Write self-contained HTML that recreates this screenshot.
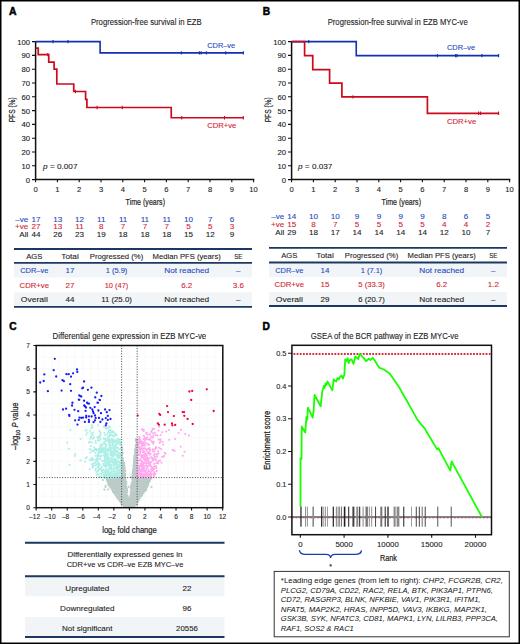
<!DOCTYPE html>
<html><head><meta charset="utf-8"><style>
html,body{margin:0;padding:0;background:#fff;overflow:hidden;width:520px;height:644px;}
svg{display:block;font-family:"Liberation Sans", sans-serif;}
</style></head><body>
<svg width="520" height="644" viewBox="0 0 520 644">
<rect x="0" y="0" width="520" height="644" fill="#fff"/>
<text x="9.00" y="15.30" font-size="10.4" fill="#000" stroke="#000" stroke-width="0.5" font-weight="bold">A</text>
<text x="262.80" y="15.30" font-size="10.2" fill="#000" stroke="#000" stroke-width="0.5" font-weight="bold">B</text>
<path d="M35.60,41.00V179.60H254.30" fill="none" stroke="#111" stroke-width="1.5"/>
<path d="M32.00,179.60H35.6M35.60,179.6V182.20M32.00,165.80H35.6M57.40,179.6V182.20M32.00,152.00H35.6M79.20,179.6V182.20M32.00,138.20H35.6M101.00,179.6V182.20M32.00,124.40H35.6M122.80,179.6V182.20M32.00,110.60H35.6M144.60,179.6V182.20M32.00,96.80H35.6M166.40,179.6V182.20M32.00,83.00H35.6M188.20,179.6V182.20M32.00,69.20H35.6M210.00,179.6V182.20M32.00,55.40H35.6M231.80,179.6V182.20M32.00,41.60H35.6M253.60,179.6V182.20" stroke="#111" stroke-width="1.1" fill="none"/>
<text x="30.00" y="182.50" font-size="7.7" fill="#222" stroke="#222" stroke-width="0.1" text-anchor="end">0</text>
<text x="35.60" y="191.90" font-size="7.6" fill="#222" stroke="#222" stroke-width="0.1" text-anchor="middle">0</text>
<text x="30.00" y="168.70" font-size="7.7" fill="#222" stroke="#222" stroke-width="0.1" text-anchor="end">10</text>
<text x="57.40" y="191.90" font-size="7.6" fill="#222" stroke="#222" stroke-width="0.1" text-anchor="middle">1</text>
<text x="30.00" y="154.90" font-size="7.7" fill="#222" stroke="#222" stroke-width="0.1" text-anchor="end">20</text>
<text x="79.20" y="191.90" font-size="7.6" fill="#222" stroke="#222" stroke-width="0.1" text-anchor="middle">2</text>
<text x="30.00" y="141.10" font-size="7.7" fill="#222" stroke="#222" stroke-width="0.1" text-anchor="end">30</text>
<text x="101.00" y="191.90" font-size="7.6" fill="#222" stroke="#222" stroke-width="0.1" text-anchor="middle">3</text>
<text x="30.00" y="127.30" font-size="7.7" fill="#222" stroke="#222" stroke-width="0.1" text-anchor="end">40</text>
<text x="122.80" y="191.90" font-size="7.6" fill="#222" stroke="#222" stroke-width="0.1" text-anchor="middle">4</text>
<text x="30.00" y="113.50" font-size="7.7" fill="#222" stroke="#222" stroke-width="0.1" text-anchor="end">50</text>
<text x="144.60" y="191.90" font-size="7.6" fill="#222" stroke="#222" stroke-width="0.1" text-anchor="middle">5</text>
<text x="30.00" y="99.70" font-size="7.7" fill="#222" stroke="#222" stroke-width="0.1" text-anchor="end">60</text>
<text x="166.40" y="191.90" font-size="7.6" fill="#222" stroke="#222" stroke-width="0.1" text-anchor="middle">6</text>
<text x="30.00" y="85.90" font-size="7.7" fill="#222" stroke="#222" stroke-width="0.1" text-anchor="end">70</text>
<text x="188.20" y="191.90" font-size="7.6" fill="#222" stroke="#222" stroke-width="0.1" text-anchor="middle">7</text>
<text x="30.00" y="72.10" font-size="7.7" fill="#222" stroke="#222" stroke-width="0.1" text-anchor="end">80</text>
<text x="210.00" y="191.90" font-size="7.6" fill="#222" stroke="#222" stroke-width="0.1" text-anchor="middle">8</text>
<text x="30.00" y="58.30" font-size="7.7" fill="#222" stroke="#222" stroke-width="0.1" text-anchor="end">90</text>
<text x="231.80" y="191.90" font-size="7.6" fill="#222" stroke="#222" stroke-width="0.1" text-anchor="middle">9</text>
<text x="30.00" y="44.50" font-size="7.7" fill="#222" stroke="#222" stroke-width="0.1" text-anchor="end">100</text>
<text x="253.60" y="191.90" font-size="7.6" fill="#222" stroke="#222" stroke-width="0.1" text-anchor="middle">10</text>
<text x="90.90" y="24.80" font-size="8.5" fill="#222" stroke="#222" stroke-width="0.1" textLength="110.8" lengthAdjust="spacingAndGlyphs">Progression-free survival in EZB</text>
<text transform="translate(14.90,109.80) rotate(-90)" x="0" y="0" font-size="9.3" fill="#222" stroke="#222" stroke-width="0.2" text-anchor="middle" textLength="25" lengthAdjust="spacingAndGlyphs">PFS (%)</text>
<text x="125.60" y="204.70" font-size="9.4" fill="#222" stroke="#222" stroke-width="0.2" textLength="39.4" lengthAdjust="spacingAndGlyphs">Time (years)</text>
<path d="M35.6,41.6H100.1V52.9H243.6" fill="none" stroke="#1330b0" stroke-width="1.6"/>
<path d="M35.6,48.1H38.25V54.6H48.75V62.1H54.1V69.2H56.8V84H73.75V91.5H85.6V99.4H86.9V107.5H171.25V117.75H243.6" fill="none" stroke="#cc0a1e" stroke-width="1.7"/>
<path d="M53.00,39.90V43.30M68.00,39.90V43.30M181.25,51.20V54.60M199.40,51.20V54.60M201.10,51.20V54.60M206.30,51.20V54.60M225.70,51.20V54.60M243.30,51.20V54.60" stroke="#1330b0" stroke-width="1.1" fill="none"/>
<path d="M47.75,52.90V56.30M75.40,89.80V93.20M97.10,105.80V109.20M122.25,105.80V109.20M181.75,116.05V119.45M224.50,116.05V119.45M243.30,116.05V119.45" stroke="#cc0a1e" stroke-width="1.1" fill="none"/>
<text x="207.20" y="47.60" font-size="7.5" fill="#2548be" stroke="#2548be" stroke-width="0.1" textLength="28" lengthAdjust="spacingAndGlyphs">CDR–ve</text>
<text x="207.20" y="128.20" font-size="7.5" fill="#d21e32" stroke="#d21e32" stroke-width="0.1" textLength="29.2" lengthAdjust="spacingAndGlyphs">CDR+ve</text>
<text x="43.10" y="168.8" font-size="7.6" fill="#222" stroke="#222" stroke-width="0.1" textLength="34.4" lengthAdjust="spacingAndGlyphs"><tspan font-style="italic">p</tspan> = 0.007</text>
<text x="28.30" y="221.50" font-size="8.1" fill="#2548be" stroke="#2548be" stroke-width="0.1" text-anchor="end">–ve</text>
<text x="35.90" y="221.50" font-size="8.1" fill="#2548be" stroke="#2548be" stroke-width="0.1" text-anchor="middle">17</text>
<text x="57.70" y="221.50" font-size="8.1" fill="#2548be" stroke="#2548be" stroke-width="0.1" text-anchor="middle">13</text>
<text x="79.50" y="221.50" font-size="8.1" fill="#2548be" stroke="#2548be" stroke-width="0.1" text-anchor="middle">12</text>
<text x="101.30" y="221.50" font-size="8.1" fill="#2548be" stroke="#2548be" stroke-width="0.1" text-anchor="middle">11</text>
<text x="123.10" y="221.50" font-size="8.1" fill="#2548be" stroke="#2548be" stroke-width="0.1" text-anchor="middle">11</text>
<text x="144.90" y="221.50" font-size="8.1" fill="#2548be" stroke="#2548be" stroke-width="0.1" text-anchor="middle">11</text>
<text x="166.70" y="221.50" font-size="8.1" fill="#2548be" stroke="#2548be" stroke-width="0.1" text-anchor="middle">11</text>
<text x="188.50" y="221.50" font-size="8.1" fill="#2548be" stroke="#2548be" stroke-width="0.1" text-anchor="middle">10</text>
<text x="210.30" y="221.50" font-size="8.1" fill="#2548be" stroke="#2548be" stroke-width="0.1" text-anchor="middle">7</text>
<text x="232.10" y="221.50" font-size="8.1" fill="#2548be" stroke="#2548be" stroke-width="0.1" text-anchor="middle">6</text>
<text x="28.30" y="228.90" font-size="8.1" fill="#d21e32" stroke="#d21e32" stroke-width="0.1" text-anchor="end">+ve</text>
<text x="35.90" y="228.90" font-size="8.1" fill="#d21e32" stroke="#d21e32" stroke-width="0.1" text-anchor="middle">27</text>
<text x="57.70" y="228.90" font-size="8.1" fill="#d21e32" stroke="#d21e32" stroke-width="0.1" text-anchor="middle">13</text>
<text x="79.50" y="228.90" font-size="8.1" fill="#d21e32" stroke="#d21e32" stroke-width="0.1" text-anchor="middle">11</text>
<text x="101.30" y="228.90" font-size="8.1" fill="#d21e32" stroke="#d21e32" stroke-width="0.1" text-anchor="middle">8</text>
<text x="123.10" y="228.90" font-size="8.1" fill="#d21e32" stroke="#d21e32" stroke-width="0.1" text-anchor="middle">7</text>
<text x="144.90" y="228.90" font-size="8.1" fill="#d21e32" stroke="#d21e32" stroke-width="0.1" text-anchor="middle">7</text>
<text x="166.70" y="228.90" font-size="8.1" fill="#d21e32" stroke="#d21e32" stroke-width="0.1" text-anchor="middle">7</text>
<text x="188.50" y="228.90" font-size="8.1" fill="#d21e32" stroke="#d21e32" stroke-width="0.1" text-anchor="middle">5</text>
<text x="210.30" y="228.90" font-size="8.1" fill="#d21e32" stroke="#d21e32" stroke-width="0.1" text-anchor="middle">5</text>
<text x="232.10" y="228.90" font-size="8.1" fill="#d21e32" stroke="#d21e32" stroke-width="0.1" text-anchor="middle">3</text>
<text x="28.30" y="236.50" font-size="8.1" fill="#222" stroke="#222" stroke-width="0.1" text-anchor="end">All</text>
<text x="35.90" y="236.50" font-size="8.1" fill="#222" stroke="#222" stroke-width="0.1" text-anchor="middle">44</text>
<text x="57.70" y="236.50" font-size="8.1" fill="#222" stroke="#222" stroke-width="0.1" text-anchor="middle">26</text>
<text x="79.50" y="236.50" font-size="8.1" fill="#222" stroke="#222" stroke-width="0.1" text-anchor="middle">23</text>
<text x="101.30" y="236.50" font-size="8.1" fill="#222" stroke="#222" stroke-width="0.1" text-anchor="middle">19</text>
<text x="123.10" y="236.50" font-size="8.1" fill="#222" stroke="#222" stroke-width="0.1" text-anchor="middle">18</text>
<text x="144.90" y="236.50" font-size="8.1" fill="#222" stroke="#222" stroke-width="0.1" text-anchor="middle">18</text>
<text x="166.70" y="236.50" font-size="8.1" fill="#222" stroke="#222" stroke-width="0.1" text-anchor="middle">18</text>
<text x="188.50" y="236.50" font-size="8.1" fill="#222" stroke="#222" stroke-width="0.1" text-anchor="middle">15</text>
<text x="210.30" y="236.50" font-size="8.1" fill="#222" stroke="#222" stroke-width="0.1" text-anchor="middle">12</text>
<text x="232.10" y="236.50" font-size="8.1" fill="#222" stroke="#222" stroke-width="0.1" text-anchor="middle">9</text>
<path d="M291.60,41.00V179.60H510.30" fill="none" stroke="#111" stroke-width="1.5"/>
<path d="M288.00,179.60H291.6M291.60,179.6V182.20M288.00,165.80H291.6M313.40,179.6V182.20M288.00,152.00H291.6M335.20,179.6V182.20M288.00,138.20H291.6M357.00,179.6V182.20M288.00,124.40H291.6M378.80,179.6V182.20M288.00,110.60H291.6M400.60,179.6V182.20M288.00,96.80H291.6M422.40,179.6V182.20M288.00,83.00H291.6M444.20,179.6V182.20M288.00,69.20H291.6M466.00,179.6V182.20M288.00,55.40H291.6M487.80,179.6V182.20M288.00,41.60H291.6M509.60,179.6V182.20" stroke="#111" stroke-width="1.1" fill="none"/>
<text x="286.00" y="182.50" font-size="7.7" fill="#222" stroke="#222" stroke-width="0.1" text-anchor="end">0</text>
<text x="291.60" y="191.90" font-size="7.6" fill="#222" stroke="#222" stroke-width="0.1" text-anchor="middle">0</text>
<text x="286.00" y="168.70" font-size="7.7" fill="#222" stroke="#222" stroke-width="0.1" text-anchor="end">10</text>
<text x="313.40" y="191.90" font-size="7.6" fill="#222" stroke="#222" stroke-width="0.1" text-anchor="middle">1</text>
<text x="286.00" y="154.90" font-size="7.7" fill="#222" stroke="#222" stroke-width="0.1" text-anchor="end">20</text>
<text x="335.20" y="191.90" font-size="7.6" fill="#222" stroke="#222" stroke-width="0.1" text-anchor="middle">2</text>
<text x="286.00" y="141.10" font-size="7.7" fill="#222" stroke="#222" stroke-width="0.1" text-anchor="end">30</text>
<text x="357.00" y="191.90" font-size="7.6" fill="#222" stroke="#222" stroke-width="0.1" text-anchor="middle">3</text>
<text x="286.00" y="127.30" font-size="7.7" fill="#222" stroke="#222" stroke-width="0.1" text-anchor="end">40</text>
<text x="378.80" y="191.90" font-size="7.6" fill="#222" stroke="#222" stroke-width="0.1" text-anchor="middle">4</text>
<text x="286.00" y="113.50" font-size="7.7" fill="#222" stroke="#222" stroke-width="0.1" text-anchor="end">50</text>
<text x="400.60" y="191.90" font-size="7.6" fill="#222" stroke="#222" stroke-width="0.1" text-anchor="middle">5</text>
<text x="286.00" y="99.70" font-size="7.7" fill="#222" stroke="#222" stroke-width="0.1" text-anchor="end">60</text>
<text x="422.40" y="191.90" font-size="7.6" fill="#222" stroke="#222" stroke-width="0.1" text-anchor="middle">6</text>
<text x="286.00" y="85.90" font-size="7.7" fill="#222" stroke="#222" stroke-width="0.1" text-anchor="end">70</text>
<text x="444.20" y="191.90" font-size="7.6" fill="#222" stroke="#222" stroke-width="0.1" text-anchor="middle">7</text>
<text x="286.00" y="72.10" font-size="7.7" fill="#222" stroke="#222" stroke-width="0.1" text-anchor="end">80</text>
<text x="466.00" y="191.90" font-size="7.6" fill="#222" stroke="#222" stroke-width="0.1" text-anchor="middle">8</text>
<text x="286.00" y="58.30" font-size="7.7" fill="#222" stroke="#222" stroke-width="0.1" text-anchor="end">90</text>
<text x="487.80" y="191.90" font-size="7.6" fill="#222" stroke="#222" stroke-width="0.1" text-anchor="middle">9</text>
<text x="286.00" y="44.50" font-size="7.7" fill="#222" stroke="#222" stroke-width="0.1" text-anchor="end">100</text>
<text x="509.60" y="191.90" font-size="7.6" fill="#222" stroke="#222" stroke-width="0.1" text-anchor="middle">10</text>
<text x="327.70" y="24.80" font-size="8.5" fill="#222" stroke="#222" stroke-width="0.1" textLength="140" lengthAdjust="spacingAndGlyphs">Progression-free survival in EZB MYC-ve</text>
<text transform="translate(270.90,109.80) rotate(-90)" x="0" y="0" font-size="9.3" fill="#222" stroke="#222" stroke-width="0.2" text-anchor="middle" textLength="25" lengthAdjust="spacingAndGlyphs">PFS (%)</text>
<text x="381.60" y="204.70" font-size="9.4" fill="#222" stroke="#222" stroke-width="0.2" textLength="39.4" lengthAdjust="spacingAndGlyphs">Time (years)</text>
<path d="M291.6,41.6H356.25V55.6H498.8" fill="none" stroke="#1330b0" stroke-width="1.6"/>
<path d="M291.6,41.6H304.6V55.6H312.75V69.6H329.6V83.1H341.9V96.9H427.4V113.3H498.8" fill="none" stroke="#cc0a1e" stroke-width="1.7"/>
<path d="M308.75,39.90V43.30M437.40,53.90V57.30M455.60,53.90V57.30M457.00,53.90V57.30M481.90,53.90V57.30M498.60,53.90V57.30" stroke="#1330b0" stroke-width="1.1" fill="none"/>
<path d="M353.00,95.20V98.60M478.60,111.60V115.00M480.60,111.60V115.00M498.60,111.60V115.00" stroke="#cc0a1e" stroke-width="1.1" fill="none"/>
<text x="447.00" y="50.20" font-size="7.5" fill="#2548be" stroke="#2548be" stroke-width="0.1" textLength="28" lengthAdjust="spacingAndGlyphs">CDR–ve</text>
<text x="447.00" y="123.50" font-size="7.5" fill="#d21e32" stroke="#d21e32" stroke-width="0.1" textLength="29.2" lengthAdjust="spacingAndGlyphs">CDR+ve</text>
<text x="298.00" y="168.8" font-size="7.6" fill="#222" stroke="#222" stroke-width="0.1" textLength="34.4" lengthAdjust="spacingAndGlyphs"><tspan font-style="italic">p</tspan> = 0.037</text>
<text x="284.30" y="218.80" font-size="8.1" fill="#2548be" stroke="#2548be" stroke-width="0.1" text-anchor="end">–ve</text>
<text x="291.70" y="218.80" font-size="8.1" fill="#2548be" stroke="#2548be" stroke-width="0.1" text-anchor="middle">14</text>
<text x="313.50" y="218.80" font-size="8.1" fill="#2548be" stroke="#2548be" stroke-width="0.1" text-anchor="middle">10</text>
<text x="335.30" y="218.80" font-size="8.1" fill="#2548be" stroke="#2548be" stroke-width="0.1" text-anchor="middle">10</text>
<text x="357.10" y="218.80" font-size="8.1" fill="#2548be" stroke="#2548be" stroke-width="0.1" text-anchor="middle">9</text>
<text x="378.90" y="218.80" font-size="8.1" fill="#2548be" stroke="#2548be" stroke-width="0.1" text-anchor="middle">9</text>
<text x="400.70" y="218.80" font-size="8.1" fill="#2548be" stroke="#2548be" stroke-width="0.1" text-anchor="middle">9</text>
<text x="422.50" y="218.80" font-size="8.1" fill="#2548be" stroke="#2548be" stroke-width="0.1" text-anchor="middle">9</text>
<text x="444.30" y="218.80" font-size="8.1" fill="#2548be" stroke="#2548be" stroke-width="0.1" text-anchor="middle">8</text>
<text x="466.10" y="218.80" font-size="8.1" fill="#2548be" stroke="#2548be" stroke-width="0.1" text-anchor="middle">6</text>
<text x="487.90" y="218.80" font-size="8.1" fill="#2548be" stroke="#2548be" stroke-width="0.1" text-anchor="middle">5</text>
<text x="284.30" y="226.50" font-size="8.1" fill="#d21e32" stroke="#d21e32" stroke-width="0.1" text-anchor="end">+ve</text>
<text x="291.70" y="226.50" font-size="8.1" fill="#d21e32" stroke="#d21e32" stroke-width="0.1" text-anchor="middle">15</text>
<text x="313.50" y="226.50" font-size="8.1" fill="#d21e32" stroke="#d21e32" stroke-width="0.1" text-anchor="middle">8</text>
<text x="335.30" y="226.50" font-size="8.1" fill="#d21e32" stroke="#d21e32" stroke-width="0.1" text-anchor="middle">7</text>
<text x="357.10" y="226.50" font-size="8.1" fill="#d21e32" stroke="#d21e32" stroke-width="0.1" text-anchor="middle">5</text>
<text x="378.90" y="226.50" font-size="8.1" fill="#d21e32" stroke="#d21e32" stroke-width="0.1" text-anchor="middle">5</text>
<text x="400.70" y="226.50" font-size="8.1" fill="#d21e32" stroke="#d21e32" stroke-width="0.1" text-anchor="middle">5</text>
<text x="422.50" y="226.50" font-size="8.1" fill="#d21e32" stroke="#d21e32" stroke-width="0.1" text-anchor="middle">5</text>
<text x="444.30" y="226.50" font-size="8.1" fill="#d21e32" stroke="#d21e32" stroke-width="0.1" text-anchor="middle">4</text>
<text x="466.10" y="226.50" font-size="8.1" fill="#d21e32" stroke="#d21e32" stroke-width="0.1" text-anchor="middle">4</text>
<text x="487.90" y="226.50" font-size="8.1" fill="#d21e32" stroke="#d21e32" stroke-width="0.1" text-anchor="middle">2</text>
<text x="284.30" y="234.50" font-size="8.1" fill="#222" stroke="#222" stroke-width="0.1" text-anchor="end">All</text>
<text x="291.70" y="234.50" font-size="8.1" fill="#222" stroke="#222" stroke-width="0.1" text-anchor="middle">29</text>
<text x="313.50" y="234.50" font-size="8.1" fill="#222" stroke="#222" stroke-width="0.1" text-anchor="middle">18</text>
<text x="335.30" y="234.50" font-size="8.1" fill="#222" stroke="#222" stroke-width="0.1" text-anchor="middle">17</text>
<text x="357.10" y="234.50" font-size="8.1" fill="#222" stroke="#222" stroke-width="0.1" text-anchor="middle">14</text>
<text x="378.90" y="234.50" font-size="8.1" fill="#222" stroke="#222" stroke-width="0.1" text-anchor="middle">14</text>
<text x="400.70" y="234.50" font-size="8.1" fill="#222" stroke="#222" stroke-width="0.1" text-anchor="middle">14</text>
<text x="422.50" y="234.50" font-size="8.1" fill="#222" stroke="#222" stroke-width="0.1" text-anchor="middle">14</text>
<text x="444.30" y="234.50" font-size="8.1" fill="#222" stroke="#222" stroke-width="0.1" text-anchor="middle">12</text>
<text x="466.10" y="234.50" font-size="8.1" fill="#222" stroke="#222" stroke-width="0.1" text-anchor="middle">10</text>
<text x="487.90" y="234.50" font-size="8.1" fill="#222" stroke="#222" stroke-width="0.1" text-anchor="middle">7</text>
<rect x="14" y="263.9" width="238" height="13.6" fill="#f1f5f7"/>
<rect x="14" y="292.29999999999995" width="238" height="13.60" fill="#f1f5f7"/>
<path d="M14,249H252M14,262.9H252M14,306.9H252" stroke="#1a3860" stroke-width="1.9"/>
<text x="34.30" y="258.70" font-size="8" fill="#222" stroke="#222" stroke-width="0.1" text-anchor="middle" textLength="16.2" lengthAdjust="spacingAndGlyphs">AGS</text>
<text x="70.00" y="258.70" font-size="8" fill="#222" stroke="#222" stroke-width="0.1" text-anchor="middle" textLength="17.5" lengthAdjust="spacingAndGlyphs">Total</text>
<text x="116.50" y="258.70" font-size="8" fill="#222" stroke="#222" stroke-width="0.1" text-anchor="middle" textLength="53.5" lengthAdjust="spacingAndGlyphs">Progressed (%)</text>
<text x="186.70" y="258.70" font-size="8" fill="#222" stroke="#222" stroke-width="0.1" text-anchor="middle" textLength="68.2" lengthAdjust="spacingAndGlyphs">Median PFS (years)</text>
<text x="238.30" y="258.70" font-size="8" fill="#222" stroke="#222" stroke-width="0.1" text-anchor="middle" textLength="8.3" lengthAdjust="spacingAndGlyphs">SE</text>
<text x="34.30" y="273.20" font-size="8" fill="#2548be" stroke="#2548be" stroke-width="0.1" text-anchor="middle" textLength="28.2" lengthAdjust="spacingAndGlyphs">CDR–ve</text>
<text x="70.00" y="273.20" font-size="8" fill="#2548be" stroke="#2548be" stroke-width="0.1" text-anchor="middle">17</text>
<text x="116.50" y="273.20" font-size="8" fill="#2548be" stroke="#2548be" stroke-width="0.1" text-anchor="middle" textLength="21.7" lengthAdjust="spacingAndGlyphs">1 (5.9)</text>
<text x="186.70" y="273.20" font-size="8" fill="#2548be" stroke="#2548be" stroke-width="0.1" text-anchor="middle" textLength="45" lengthAdjust="spacingAndGlyphs">Not reached</text>
<text x="238.30" y="273.20" font-size="8" fill="#2548be" stroke="#2548be" stroke-width="0.1" text-anchor="middle">–</text>
<text x="34.30" y="287.80" font-size="8" fill="#d21e32" stroke="#d21e32" stroke-width="0.1" text-anchor="middle" textLength="29.5" lengthAdjust="spacingAndGlyphs">CDR+ve</text>
<text x="70.00" y="287.80" font-size="8" fill="#d21e32" stroke="#d21e32" stroke-width="0.1" text-anchor="middle">27</text>
<text x="116.50" y="287.80" font-size="8" fill="#d21e32" stroke="#d21e32" stroke-width="0.1" text-anchor="middle" textLength="23.7" lengthAdjust="spacingAndGlyphs">10 (47)</text>
<text x="186.70" y="287.80" font-size="8" fill="#d21e32" stroke="#d21e32" stroke-width="0.1" text-anchor="middle">6.2</text>
<text x="238.30" y="287.80" font-size="8" fill="#d21e32" stroke="#d21e32" stroke-width="0.1" text-anchor="middle">3.6</text>
<text x="34.30" y="302.40" font-size="8" fill="#222" stroke="#222" stroke-width="0.1" text-anchor="middle" textLength="27" lengthAdjust="spacingAndGlyphs">Overall</text>
<text x="70.00" y="302.40" font-size="8" fill="#222" stroke="#222" stroke-width="0.1" text-anchor="middle">44</text>
<text x="116.50" y="302.40" font-size="8" fill="#222" stroke="#222" stroke-width="0.1" text-anchor="middle" textLength="30.7" lengthAdjust="spacingAndGlyphs">11 (25.0)</text>
<text x="186.70" y="302.40" font-size="8" fill="#222" stroke="#222" stroke-width="0.1" text-anchor="middle" textLength="45" lengthAdjust="spacingAndGlyphs">Not reached</text>
<text x="238.30" y="302.40" font-size="8" fill="#222" stroke="#222" stroke-width="0.1" text-anchor="middle">–</text>
<rect x="269" y="263.5" width="238" height="13.6" fill="#f1f5f7"/>
<rect x="269" y="291.9" width="238" height="13.10" fill="#f1f5f7"/>
<path d="M269,247.9H507M269,262.5H507M269,306H507" stroke="#1a3860" stroke-width="1.9"/>
<text x="289.30" y="257.60" font-size="8" fill="#222" stroke="#222" stroke-width="0.1" text-anchor="middle" textLength="16.2" lengthAdjust="spacingAndGlyphs">AGS</text>
<text x="325.00" y="257.60" font-size="8" fill="#222" stroke="#222" stroke-width="0.1" text-anchor="middle" textLength="17.5" lengthAdjust="spacingAndGlyphs">Total</text>
<text x="371.50" y="257.60" font-size="8" fill="#222" stroke="#222" stroke-width="0.1" text-anchor="middle" textLength="53.5" lengthAdjust="spacingAndGlyphs">Progressed (%)</text>
<text x="441.70" y="257.60" font-size="8" fill="#222" stroke="#222" stroke-width="0.1" text-anchor="middle" textLength="68.2" lengthAdjust="spacingAndGlyphs">Median PFS (years)</text>
<text x="493.30" y="257.60" font-size="8" fill="#222" stroke="#222" stroke-width="0.1" text-anchor="middle" textLength="8.3" lengthAdjust="spacingAndGlyphs">SE</text>
<text x="289.30" y="272.80" font-size="8" fill="#2548be" stroke="#2548be" stroke-width="0.1" text-anchor="middle" textLength="28.2" lengthAdjust="spacingAndGlyphs">CDR–ve</text>
<text x="325.00" y="272.80" font-size="8" fill="#2548be" stroke="#2548be" stroke-width="0.1" text-anchor="middle">14</text>
<text x="371.50" y="272.80" font-size="8" fill="#2548be" stroke="#2548be" stroke-width="0.1" text-anchor="middle" textLength="21.7" lengthAdjust="spacingAndGlyphs">1 (7.1)</text>
<text x="441.70" y="272.80" font-size="8" fill="#2548be" stroke="#2548be" stroke-width="0.1" text-anchor="middle" textLength="45" lengthAdjust="spacingAndGlyphs">Not reached</text>
<text x="493.30" y="272.80" font-size="8" fill="#2548be" stroke="#2548be" stroke-width="0.1" text-anchor="middle">–</text>
<text x="289.30" y="287.40" font-size="8" fill="#d21e32" stroke="#d21e32" stroke-width="0.1" text-anchor="middle" textLength="29.5" lengthAdjust="spacingAndGlyphs">CDR+ve</text>
<text x="325.00" y="287.40" font-size="8" fill="#d21e32" stroke="#d21e32" stroke-width="0.1" text-anchor="middle">15</text>
<text x="371.50" y="287.40" font-size="8" fill="#d21e32" stroke="#d21e32" stroke-width="0.1" text-anchor="middle" textLength="26.5" lengthAdjust="spacingAndGlyphs">5 (33.3)</text>
<text x="441.70" y="287.40" font-size="8" fill="#d21e32" stroke="#d21e32" stroke-width="0.1" text-anchor="middle">6.2</text>
<text x="493.30" y="287.40" font-size="8" fill="#d21e32" stroke="#d21e32" stroke-width="0.1" text-anchor="middle">1.2</text>
<text x="289.30" y="302.00" font-size="8" fill="#222" stroke="#222" stroke-width="0.1" text-anchor="middle" textLength="27" lengthAdjust="spacingAndGlyphs">Overall</text>
<text x="325.00" y="302.00" font-size="8" fill="#222" stroke="#222" stroke-width="0.1" text-anchor="middle">29</text>
<text x="371.50" y="302.00" font-size="8" fill="#222" stroke="#222" stroke-width="0.1" text-anchor="middle" textLength="26.5" lengthAdjust="spacingAndGlyphs">6 (20.7)</text>
<text x="441.70" y="302.00" font-size="8" fill="#222" stroke="#222" stroke-width="0.1" text-anchor="middle" textLength="45" lengthAdjust="spacingAndGlyphs">Not reached</text>
<text x="493.30" y="302.00" font-size="8" fill="#222" stroke="#222" stroke-width="0.1" text-anchor="middle">–</text>
<text x="9.30" y="330.00" font-size="10.2" fill="#000" stroke="#000" stroke-width="0.5" font-weight="bold">C</text>
<text x="52.50" y="338.60" font-size="8.5" fill="#222" stroke="#222" stroke-width="0.1" textLength="153.7" lengthAdjust="spacingAndGlyphs">Differential gene expression in EZB MYC-ve</text>
<path d="M43.93,345.5V507.7M51.70,345.5V507.7M59.47,345.5V507.7M67.24,345.5V507.7M75.01,345.5V507.7M82.78,345.5V507.7M90.55,345.5V507.7M98.32,345.5V507.7M106.09,345.5V507.7M113.86,345.5V507.7M121.63,345.5V507.7M129.40,345.5V507.7M137.17,345.5V507.7M144.94,345.5V507.7M152.71,345.5V507.7M160.48,345.5V507.7M168.25,345.5V507.7M176.02,345.5V507.7M183.79,345.5V507.7M191.56,345.5V507.7M199.33,345.5V507.7M207.10,345.5V507.7M214.87,345.5V507.7M36.2,496.12H222.8M36.2,484.53H222.8M36.2,472.94H222.8M36.2,461.36H222.8M36.2,449.77H222.8M36.2,438.19H222.8M36.2,426.61H222.8M36.2,415.02H222.8M36.2,403.43H222.8M36.2,391.85H222.8M36.2,380.26H222.8M36.2,368.68H222.8M36.2,357.09H222.8" stroke="#f3f7f7" stroke-width="0.6" fill="none"/>
<path d="M120.0 482.4h0M121.9 479.7h0M108.2 480.6h0M143.2 481.6h0M134.0 505.5h0M118.4 482.2h0M134.5 488.8h0M107.9 479.7h0M136.5 490.4h0M132.1 491.1h0M116.3 494.7h0M140.0 482.4h0M140.4 494.6h0M119.5 498.2h0M131.8 491.2h0M135.7 479.8h0M143.0 486.3h0M135.9 478.7h0M112.8 481.4h0M140.5 481.8h0M123.1 503.3h0M125.8 493.9h0M117.9 490.0h0M112.0 483.1h0M115.8 492.1h0M117.2 478.1h0M122.1 494.4h0M136.9 492.9h0M136.3 479.6h0M141.9 489.4h0M107.9 480.0h0M112.5 487.9h0M133.4 482.3h0M121.1 488.6h0M126.6 492.0h0M129.4 506.4h0M137.2 485.6h0M129.6 500.6h0M139.2 484.6h0M121.4 478.8h0M117.9 485.5h0M115.2 484.6h0M127.2 496.9h0M139.7 491.9h0M141.5 487.6h0M123.6 505.5h0M112.9 481.7h0M121.2 493.9h0M135.0 493.3h0M125.1 503.3h0M114.8 485.3h0M116.1 495.0h0M124.4 481.8h0M121.4 491.3h0M113.0 491.7h0M141.3 481.1h0M116.5 486.0h0M125.5 495.8h0M128.7 498.1h0M117.0 494.2h0M143.8 482.0h0M125.4 480.1h0M135.5 482.1h0M127.5 506.7h0M112.5 490.5h0M120.7 483.7h0M138.4 478.6h0M125.4 478.5h0M133.9 492.9h0M149.9 481.0h0M117.5 481.8h0M117.0 482.3h0M131.4 498.3h0M124.7 480.1h0M134.3 501.2h0M126.0 487.8h0M147.9 485.8h0M110.1 482.7h0M114.3 487.0h0M140.1 486.4h0M113.2 488.1h0M116.6 478.4h0M127.0 505.1h0M142.9 490.5h0M143.6 489.4h0M120.9 502.1h0M134.4 489.7h0M107.5 481.8h0M139.3 485.4h0M118.0 485.0h0M126.2 482.6h0M119.3 488.3h0M122.7 491.8h0M114.3 492.6h0M117.2 480.6h0M106.9 478.7h0M115.8 495.0h0M139.7 497.1h0M145.7 489.3h0M138.5 496.7h0M134.0 499.3h0M128.3 502.2h0M137.1 484.7h0M111.2 488.5h0M134.0 496.2h0M135.5 479.9h0M116.7 480.2h0M138.7 484.0h0M122.7 491.9h0M140.5 495.9h0M108.6 482.3h0M139.4 486.8h0M117.4 497.5h0M136.3 486.4h0M126.5 491.5h0M148.3 478.5h0M125.8 485.8h0M131.9 482.1h0M128.5 503.7h0M125.8 486.8h0M120.9 487.2h0M118.4 488.8h0M121.7 490.4h0M116.5 485.7h0M134.2 504.5h0M130.4 498.9h0M138.9 491.1h0M134.8 486.3h0M147.9 481.7h0M120.9 486.6h0M135.3 486.7h0M123.2 482.9h0M125.8 482.0h0M109.2 484.9h0M131.3 503.7h0M124.1 490.0h0M122.4 487.8h0M134.1 503.0h0M117.5 485.2h0M125.6 505.7h0M145.4 478.6h0M126.9 495.0h0M123.1 504.9h0M116.5 481.2h0M129.2 497.8h0M138.4 496.8h0M126.2 494.0h0M141.2 484.7h0M134.9 486.8h0M116.6 496.5h0M110.2 480.0h0M132.0 489.3h0M132.8 478.3h0M126.3 505.8h0M115.9 485.2h0M137.6 486.9h0M128.0 497.6h0M116.9 497.4h0M115.5 479.0h0M124.5 497.8h0M142.9 484.7h0M140.2 486.6h0M115.3 490.1h0M148.9 482.2h0M111.6 479.5h0M123.2 504.0h0M139.5 478.9h0M122.5 488.8h0M112.8 478.1h0M143.0 490.5h0M126.9 488.8h0M106.9 479.0h0M147.6 485.5h0M146.6 487.8h0M119.6 486.0h0M134.3 505.4h0M115.8 491.8h0M116.6 490.5h0M140.7 495.6h0M119.8 488.5h0M116.4 479.9h0M108.9 480.8h0M137.8 491.0h0M124.3 496.0h0M135.7 481.5h0M118.6 494.4h0M139.1 483.8h0M116.3 482.4h0M131.7 487.5h0M147.3 479.2h0M132.0 505.0h0M145.1 491.0h0M133.7 484.3h0M111.5 483.9h0M132.7 496.9h0M136.4 483.4h0M130.4 496.5h0M124.0 486.2h0M131.2 488.4h0M121.8 483.7h0M124.6 501.8h0M112.5 478.4h0M134.6 504.4h0M133.8 488.8h0M111.7 486.2h0M147.8 481.2h0M122.9 504.2h0M115.3 489.7h0M143.3 483.3h0M123.5 493.0h0M110.7 485.2h0M146.5 479.2h0M140.0 479.1h0M130.4 496.2h0M124.4 494.9h0M135.5 491.0h0M126.2 483.2h0M110.0 481.7h0M134.4 480.4h0M141.0 492.8h0M142.7 483.6h0M127.7 505.7h0M148.0 479.9h0M140.0 482.6h0M147.5 484.0h0M136.4 504.0h0M141.3 481.3h0M134.4 488.4h0M130.7 494.8h0M134.1 489.4h0M131.7 488.4h0M125.5 483.1h0M116.7 496.5h0M132.1 497.2h0M125.0 492.9h0M111.1 484.6h0M106.0 478.1h0M115.4 494.9h0M111.9 480.8h0M123.6 485.7h0M134.8 494.3h0M134.9 490.9h0M138.9 485.2h0M123.8 484.9h0M141.0 478.4h0M148.5 482.1h0M133.1 492.7h0M142.6 483.1h0M118.9 479.4h0M139.5 491.5h0M125.9 484.6h0M115.7 479.1h0M139.7 498.2h0M137.9 485.7h0M125.2 500.9h0M117.3 496.6h0M120.2 484.9h0M134.2 498.1h0M144.7 490.7h0M131.4 486.9h0M133.8 480.3h0M111.7 478.8h0M111.6 478.8h0M137.0 496.4h0M139.1 479.9h0M121.8 501.7h0M110.0 484.0h0M118.3 480.9h0M140.0 483.9h0M124.6 478.6h0M118.1 498.8h0M128.3 502.7h0M125.2 500.4h0M137.6 493.6h0M112.9 478.0h0M127.7 501.1h0M118.1 484.2h0M134.4 480.3h0M137.2 500.8h0M121.4 489.6h0M145.9 484.8h0M129.6 499.9h0M134.9 488.1h0M135.6 499.5h0M125.3 500.4h0M145.9 484.9h0M118.9 498.4h0M112.1 482.5h0M120.1 493.1h0M120.2 483.5h0M138.7 481.0h0M138.9 490.6h0M134.5 481.1h0M123.0 479.0h0M126.4 482.1h0M123.7 499.5h0M124.9 494.6h0M124.5 484.6h0M137.4 502.7h0M134.7 491.2h0M134.1 480.8h0M134.1 485.3h0M126.1 496.0h0M136.2 505.0h0M135.3 500.6h0M127.7 506.3h0M131.6 493.7h0M143.3 493.1h0M136.7 489.4h0M121.4 479.6h0M123.5 478.4h0M124.5 498.2h0M117.3 484.5h0M123.1 484.1h0M134.3 491.6h0M121.3 496.5h0M142.7 491.6h0M117.4 488.9h0M124.7 483.4h0M138.4 486.2h0M119.0 491.9h0M134.5 497.1h0M134.3 478.4h0M116.6 480.9h0M121.0 482.4h0M141.6 482.9h0M133.1 500.7h0M143.8 483.7h0M129.5 499.5h0M117.2 484.8h0M130.0 503.0h0M143.9 491.6h0M135.8 502.4h0M124.4 505.9h0M134.5 496.4h0M133.2 497.8h0M146.5 479.0h0M133.9 487.8h0M121.9 491.8h0M140.6 484.1h0M124.5 494.1h0M123.7 492.6h0M128.4 506.3h0M141.6 487.6h0M118.8 495.0h0M141.3 479.2h0M135.4 500.9h0M133.3 495.9h0M137.2 495.3h0M126.2 500.1h0M122.1 501.9h0M119.0 490.2h0M124.9 496.6h0M131.6 504.6h0M132.4 505.2h0M127.0 490.0h0M134.8 484.2h0M105.7 478.1h0M111.0 478.5h0M138.7 480.4h0M137.8 491.4h0M138.2 478.3h0M135.1 501.7h0M119.4 499.2h0M131.6 490.7h0M121.8 496.7h0M124.3 489.2h0M131.2 486.5h0M143.3 487.6h0M132.8 486.9h0M146.1 488.9h0M132.8 504.0h0M118.1 478.0h0M124.5 495.0h0M131.5 485.9h0M141.9 483.8h0M148.1 484.8h0M136.3 491.5h0M141.6 491.3h0M115.8 494.8h0M127.0 495.1h0M113.9 483.2h0M121.8 494.4h0M122.3 481.1h0M141.4 482.5h0M121.0 493.1h0M131.2 485.6h0M124.7 505.4h0M116.7 479.1h0M113.4 480.4h0M130.8 503.2h0M123.4 481.5h0M116.9 494.4h0M123.2 491.0h0M115.3 479.1h0M137.8 496.8h0M118.8 495.2h0M116.9 481.6h0M112.8 484.9h0M136.3 478.4h0M125.9 487.9h0M127.1 496.2h0M115.3 479.6h0M145.3 485.7h0M120.5 482.9h0M135.9 484.1h0M118.2 485.5h0M120.8 482.1h0M143.5 493.3h0M125.1 504.4h0M137.9 483.7h0M137.7 501.5h0M114.4 479.9h0M123.9 498.9h0M142.5 487.7h0M127.0 503.3h0M122.0 482.7h0M132.5 478.1h0M125.6 493.0h0M145.0 487.3h0M122.6 499.8h0M115.3 483.3h0M137.3 483.7h0M132.7 494.7h0M137.5 481.0h0M138.2 479.3h0M117.9 481.5h0M144.8 482.3h0M139.5 482.8h0M124.4 502.4h0M123.3 505.3h0M120.7 485.0h0M125.1 506.5h0M144.2 479.6h0M116.5 490.2h0M121.9 493.4h0M125.0 492.6h0M134.3 501.5h0M145.9 479.0h0M117.3 497.7h0M130.1 504.8h0M116.6 493.1h0M119.1 496.8h0M132.5 505.7h0M117.4 491.5h0M111.9 481.6h0M118.6 489.8h0M116.3 480.5h0M131.4 496.9h0M137.9 491.4h0M133.3 491.6h0M116.2 484.4h0M122.7 495.0h0M121.3 503.0h0M130.7 492.3h0M140.7 482.6h0M145.3 490.8h0M122.9 490.8h0M139.2 482.5h0M121.3 497.6h0M128.9 499.4h0M140.1 491.8h0M132.1 492.4h0M131.5 490.1h0M122.6 491.1h0M138.4 486.5h0M119.9 500.8h0M113.5 486.8h0M131.6 494.9h0M124.7 504.4h0M128.0 504.7h0M129.9 507.0h0M128.9 497.9h0M121.5 495.2h0M122.3 489.6h0M131.6 503.5h0M133.9 506.9h0M129.5 501.7h0M143.2 492.9h0M146.1 490.2h0M118.4 492.8h0M113.7 483.3h0M132.9 488.2h0M134.4 479.2h0M141.4 486.9h0M135.9 483.7h0M134.9 493.4h0M131.6 489.9h0M109.9 480.9h0M129.2 501.9h0M142.3 479.8h0M140.6 487.4h0M121.4 482.9h0M131.9 488.1h0M122.8 479.6h0M131.9 505.8h0M133.7 485.2h0M142.7 486.8h0M123.0 498.8h0M127.4 501.0h0M113.0 488.4h0M123.6 479.9h0M143.2 488.2h0M113.8 486.2h0M120.8 482.5h0M112.4 488.2h0M125.9 481.8h0M132.2 488.7h0M133.1 484.2h0M140.7 489.2h0M131.3 487.0h0M119.8 497.2h0M131.0 488.5h0M118.7 479.9h0M115.5 481.7h0M118.1 489.7h0M144.8 481.8h0M135.7 488.2h0M135.5 498.3h0M144.2 488.2h0M138.9 498.7h0M114.2 486.8h0M134.5 483.2h0M131.4 498.8h0M125.1 497.8h0M140.9 486.3h0M139.7 480.5h0M123.2 499.7h0M118.0 480.6h0M124.6 505.0h0M134.0 491.1h0M137.3 490.4h0M142.3 485.6h0M124.0 483.8h0M136.0 484.9h0M120.4 501.6h0M140.2 482.9h0M132.7 491.4h0M143.4 481.3h0M121.7 484.0h0M118.0 483.7h0M125.7 481.3h0M126.7 488.5h0M139.7 480.4h0M125.1 483.5h0M134.8 496.2h0M135.2 485.3h0M143.8 486.6h0M134.5 502.5h0M120.1 483.4h0M119.8 488.7h0M122.1 502.1h0M134.1 501.8h0M112.3 486.7h0M109.1 479.2h0M124.7 486.2h0M120.7 490.7h0M112.6 486.6h0M131.1 488.1h0M126.3 506.2h0M142.5 479.7h0M133.2 486.6h0M134.9 486.7h0M145.9 478.8h0M136.4 491.0h0M135.5 488.8h0M124.3 493.4h0M123.3 481.3h0M116.7 480.8h0M116.6 492.2h0M115.5 494.6h0M138.1 500.0h0M123.1 483.0h0M131.0 500.5h0M140.9 479.7h0M122.2 478.4h0M114.9 486.7h0M124.7 503.8h0M120.8 500.1h0M143.2 481.6h0M138.4 479.3h0M142.1 481.3h0M136.2 485.4h0M125.7 502.3h0M110.3 478.6h0M142.0 483.4h0M118.4 497.9h0M129.9 498.0h0M148.9 478.4h0M123.2 491.8h0M133.3 480.2h0M132.3 479.3h0M121.7 491.6h0M122.9 488.3h0M131.8 487.7h0M126.2 506.6h0M117.6 485.9h0M117.1 494.5h0M140.8 496.4h0M121.8 486.2h0M136.5 486.8h0M139.2 492.8h0M121.2 494.0h0M116.3 484.8h0M126.0 490.9h0M119.0 482.9h0M118.9 486.9h0M130.5 505.2h0M108.7 483.2h0M140.8 490.4h0M146.6 486.0h0M115.1 489.6h0M132.9 503.1h0M145.5 487.9h0M147.7 484.2h0M139.7 496.8h0M136.4 487.8h0M124.2 479.3h0M120.5 492.3h0M116.9 491.4h0M133.4 499.0h0M109.3 482.5h0M140.5 480.6h0M124.6 493.6h0M130.7 497.1h0M120.3 499.5h0M137.9 500.1h0M119.3 500.4h0M126.0 486.1h0M148.5 481.8h0M127.0 497.0h0M109.2 478.8h0M111.9 483.1h0M147.6 482.7h0M141.0 485.0h0M120.9 501.2h0M123.6 503.1h0M131.1 489.9h0M115.4 485.3h0M125.1 484.7h0M140.1 496.6h0M143.1 486.2h0M127.5 503.8h0M136.6 495.3h0M131.8 503.6h0M109.5 482.9h0M115.7 490.5h0M121.4 492.4h0M121.2 484.2h0M117.6 483.1h0M108.2 479.3h0M123.9 494.1h0M135.2 493.8h0M123.5 487.2h0M122.8 489.9h0M151.2 478.2h0M147.8 485.4h0M122.4 485.0h0M120.0 496.7h0M132.4 506.8h0M134.1 499.6h0M137.9 489.4h0M133.3 497.6h0M134.1 493.7h0M133.3 485.7h0M126.9 498.9h0M129.4 501.6h0M126.3 496.6h0M110.7 482.5h0M142.1 493.1h0M125.8 491.9h0M140.1 482.3h0M122.0 493.1h0M122.1 487.9h0M117.7 487.4h0M143.6 480.6h0M144.7 483.8h0M141.6 495.9h0M122.0 498.7h0M123.9 496.8h0M121.3 489.2h0M137.9 488.8h0M120.2 480.1h0M122.5 493.2h0M126.4 491.4h0M124.2 491.7h0M125.3 492.2h0M139.2 489.6h0M136.4 494.1h0M140.6 481.4h0M136.5 498.6h0M124.3 494.9h0M111.7 487.7h0M117.7 485.6h0M130.7 492.8h0M144.6 485.5h0M122.3 491.5h0M132.0 488.6h0M119.5 493.5h0M131.1 487.4h0M141.8 486.5h0M142.1 495.2h0M145.6 479.7h0M134.6 479.4h0M130.9 501.2h0M136.2 497.6h0M114.6 480.9h0M124.2 497.1h0M112.2 479.6h0M118.6 484.7h0M119.7 494.3h0M134.6 484.5h0M138.7 490.5h0M121.1 499.8h0M148.0 480.7h0M125.8 485.2h0M118.8 480.0h0M141.4 495.3h0M121.3 488.9h0M122.0 483.7h0M114.4 481.7h0M127.6 500.9h0M136.9 484.6h0M112.1 485.7h0M123.2 493.0h0M146.2 480.4h0M115.8 495.3h0M137.9 479.8h0M132.7 506.5h0M133.6 498.1h0M120.8 501.5h0M124.1 489.8h0M136.4 482.4h0M111.5 483.7h0M127.2 492.4h0M134.4 483.8h0M121.2 482.7h0M136.1 499.6h0M132.3 490.6h0M129.6 505.4h0M115.7 483.7h0M115.9 492.3h0M136.7 498.6h0M143.2 489.8h0M135.2 502.3h0M132.5 502.3h0M142.6 490.1h0M126.2 487.7h0M121.4 502.5h0M118.5 480.6h0M137.4 490.8h0M142.3 481.5h0M121.8 484.5h0M133.2 503.9h0M128.1 505.7h0M143.4 482.7h0M142.4 485.3h0M125.5 505.8h0M135.6 496.3h0M129.2 497.6h0M136.6 494.2h0M138.7 499.7h0M120.0 482.0h0M146.2 482.2h0M123.1 499.7h0M118.5 493.8h0M137.8 498.0h0M121.1 482.1h0M145.6 482.7h0M112.9 487.0h0M118.8 489.1h0M114.1 487.3h0M110.0 485.5h0M117.3 483.9h0M125.8 502.3h0M141.0 487.1h0M140.0 491.6h0M136.0 499.8h0M134.1 485.5h0M131.2 488.3h0M117.3 485.1h0M130.4 499.9h0M124.1 501.4h0M119.2 496.7h0M134.3 498.1h0M123.2 505.3h0M120.8 489.4h0M121.2 483.4h0M136.0 504.1h0M120.7 479.9h0M128.2 502.7h0M131.7 489.7h0M139.9 492.5h0M145.6 481.8h0M137.5 495.8h0M143.1 485.9h0M115.4 480.7h0M121.6 498.3h0M143.8 487.4h0M134.1 482.0h0M130.7 501.4h0M143.3 481.2h0M134.1 487.9h0M141.7 484.1h0M142.4 493.6h0M141.0 478.8h0M124.6 479.8h0M138.5 495.0h0M126.0 497.8h0M126.0 487.9h0M123.6 486.2h0M139.0 493.0h0M114.1 485.7h0M138.3 479.8h0M138.4 496.3h0M121.4 482.7h0M142.2 491.2h0M126.8 506.7h0M141.8 491.8h0M110.9 481.2h0M116.7 478.6h0M138.9 489.1h0M143.9 481.9h0M122.5 478.3h0M141.4 491.4h0M133.9 503.7h0M134.6 484.0h0M110.8 483.8h0M132.1 496.5h0M125.3 480.0h0M123.5 497.5h0M137.0 491.7h0M123.1 500.9h0M134.3 499.5h0M142.1 479.1h0M147.5 485.6h0M137.8 483.4h0M130.7 501.8h0M133.7 495.2h0M108.6 479.6h0M118.5 489.5h0M139.5 478.7h0M142.5 491.3h0M135.1 484.0h0M119.0 500.1h0M133.0 506.4h0M132.7 493.1h0M123.8 495.7h0M125.4 498.5h0M118.9 488.1h0M139.8 486.0h0M124.1 478.6h0M120.2 500.3h0M143.2 487.1h0M122.0 493.6h0M135.1 493.6h0M123.8 504.5h0M149.7 480.6h0M113.2 490.7h0M136.9 499.6h0M116.5 485.5h0M137.0 484.1h0M132.3 497.0h0M137.1 486.8h0M108.1 478.4h0M111.6 481.3h0M113.2 480.9h0M123.9 498.0h0M138.7 480.8h0M120.8 502.1h0M117.8 478.3h0M146.9 482.6h0M132.1 497.2h0M122.7 496.9h0M115.3 479.9h0M121.8 499.0h0M141.4 485.3h0M118.2 489.0h0M115.4 483.6h0M122.8 488.6h0M126.8 503.2h0M135.7 502.3h0M137.9 480.7h0M115.7 490.8h0M126.7 505.2h0M139.4 494.3h0M114.8 480.4h0M138.8 480.2h0M119.7 484.0h0M121.7 481.5h0M126.8 499.5h0M115.8 492.5h0M135.1 482.2h0M113.4 484.6h0M146.7 480.4h0M111.5 483.6h0M132.0 505.2h0M136.4 478.4h0M115.8 491.8h0M126.1 484.6h0M119.9 489.8h0M135.9 478.7h0M116.9 491.2h0M137.9 482.0h0M111.9 482.0h0M131.9 503.7h0M115.8 482.9h0M125.9 489.9h0M135.6 502.9h0M123.9 479.5h0M109.8 478.5h0M145.3 490.2h0M135.2 492.9h0M132.1 501.2h0M137.0 485.4h0M121.9 493.2h0M133.9 491.7h0M142.0 478.3h0M136.4 498.6h0M141.3 484.8h0M123.9 505.9h0M121.6 497.2h0M110.9 484.5h0M117.3 479.0h0M123.8 490.2h0M131.9 505.3h0M121.5 498.4h0M113.1 492.0h0M136.3 482.7h0M134.3 498.4h0M118.9 485.4h0M132.8 502.6h0M132.2 483.8h0M129.7 499.0h0M108.2 478.1h0M137.2 478.1h0M150.7 478.6h0M111.9 487.7h0M119.8 490.1h0M117.0 479.6h0M112.5 480.7h0M137.2 485.6h0M138.7 487.9h0M122.8 498.8h0M115.7 480.7h0M116.1 485.5h0M129.7 499.0h0M138.5 484.4h0M134.6 498.0h0M146.7 483.9h0M135.6 485.6h0M119.3 487.1h0M109.1 479.4h0M114.1 481.5h0M138.1 493.3h0M109.9 480.0h0M135.9 484.4h0M127.1 498.7h0M122.2 491.0h0M134.5 486.1h0M133.6 486.7h0M125.2 480.5h0M140.5 481.9h0M108.3 482.8h0M143.5 482.9h0M140.4 490.3h0M110.4 485.5h0M126.9 505.7h0M118.4 491.5h0M138.9 481.8h0M120.7 485.2h0M126.7 506.7h0M144.5 487.3h0M139.4 487.9h0M124.4 501.8h0M140.3 495.6h0M117.3 488.6h0M121.3 489.0h0M124.0 496.4h0M139.9 485.1h0M138.7 499.9h0M116.7 497.0h0M143.8 481.9h0M120.6 501.8h0M139.4 497.6h0M120.7 500.7h0M145.2 484.2h0M116.5 480.9h0M115.5 480.0h0M139.3 483.8h0M123.6 501.3h0M119.3 496.3h0M126.8 504.1h0M132.2 502.0h0M114.6 488.5h0M125.0 498.8h0M121.5 484.4h0M142.1 484.4h0M122.6 498.6h0M114.3 486.8h0M138.9 483.4h0M141.8 483.3h0M130.5 500.0h0M114.6 478.7h0M142.2 490.3h0M117.0 486.0h0M109.3 478.2h0M138.2 499.7h0M116.8 493.0h0M132.9 504.2h0M132.1 498.9h0M137.9 498.6h0M125.5 480.5h0M134.5 506.9h0M140.5 485.1h0M112.5 489.9h0M119.0 482.7h0M108.9 483.6h0M127.2 490.8h0M127.5 505.4h0M111.7 482.9h0M123.7 488.3h0M121.3 498.0h0M121.4 496.3h0M123.6 490.5h0M130.6 497.2h0M148.9 482.2h0M132.3 497.6h0M123.6 483.3h0M127.2 492.4h0M146.4 488.1h0M122.9 495.7h0M117.1 488.7h0M120.4 501.8h0M136.9 478.6h0M111.8 484.6h0M125.1 483.6h0M144.7 489.2h0M132.6 506.3h0M107.6 481.6h0M137.8 496.3h0M112.5 483.2h0M125.1 489.3h0M113.1 483.2h0M121.2 499.4h0M129.5 497.7h0M125.3 500.9h0M125.9 503.6h0M120.6 489.5h0M113.1 489.1h0M141.4 492.9h0M141.9 490.0h0M131.4 499.1h0M119.6 488.9h0M119.7 500.0h0M133.3 482.6h0M140.0 482.3h0M131.5 504.3h0M124.8 505.1h0M140.9 481.0h0M125.4 499.1h0M138.8 496.8h0M127.8 498.9h0M135.3 486.1h0M131.4 501.4h0M126.1 503.0h0M130.0 499.5h0M134.5 488.9h0M142.7 479.0h0M146.3 479.0h0M126.7 498.8h0M110.6 483.4h0M120.6 482.8h0M126.9 500.8h0M133.3 506.2h0M134.2 493.5h0M125.5 480.9h0M139.4 484.7h0M147.7 482.7h0M112.8 482.0h0M122.0 494.1h0M132.3 482.7h0M131.9 506.0h0M110.7 486.2h0M131.0 505.5h0M134.3 493.8h0M136.0 488.5h0M108.0 478.3h0M114.5 492.7h0M138.0 478.1h0M124.7 506.1h0M124.2 504.2h0M143.1 478.4h0M137.3 480.0h0M139.5 485.8h0M121.8 497.2h0M133.8 496.9h0M138.6 494.0h0M146.6 485.4h0M112.3 482.3h0M142.0 482.6h0M131.6 494.3h0M116.2 480.7h0M122.9 487.7h0M143.6 491.1h0M113.4 480.0h0M120.3 480.6h0M124.6 486.9h0M112.2 486.9h0M124.8 482.8h0M135.0 482.5h0M120.5 481.0h0M138.2 492.8h0M136.0 490.6h0M123.4 483.8h0M120.5 485.7h0M115.3 489.6h0M124.9 482.5h0M130.1 506.7h0M136.0 492.4h0M142.7 491.7h0M136.7 498.2h0M150.2 479.3h0M142.0 481.3h0M138.4 488.1h0M122.0 498.7h0M134.4 482.5h0M138.2 481.3h0M136.1 478.1h0M121.4 503.4h0M132.2 506.1h0M114.1 493.0h0M120.6 488.8h0M132.2 484.5h0M124.4 497.3h0M141.1 493.0h0M122.4 486.4h0M137.8 501.7h0M138.8 484.2h0M121.6 486.9h0M135.3 497.6h0M137.1 485.9h0M121.7 478.9h0M115.6 487.8h0M117.5 492.1h0M145.1 490.7h0M113.5 482.6h0M122.3 481.5h0M125.3 489.5h0M116.8 478.6h0M122.5 478.3h0M140.2 487.7h0M133.9 483.5h0M136.2 495.7h0M147.1 484.8h0M131.6 487.3h0M120.0 496.7h0M114.8 487.0h0M116.3 495.0h0M142.5 485.8h0M127.2 506.6h0M122.6 484.6h0M142.0 481.0h0M139.8 490.8h0M114.8 478.1h0M125.0 492.7h0M137.5 493.0h0M121.5 487.7h0M122.1 481.3h0M120.7 490.1h0M121.7 489.7h0M135.6 497.3h0M123.8 484.7h0M126.1 502.1h0M138.9 478.8h0M136.3 492.4h0M114.1 483.0h0M137.1 485.5h0M119.5 494.0h0M127.4 495.9h0M119.3 497.7h0M133.5 500.6h0M115.3 490.8h0M131.2 499.8h0M125.7 506.1h0M135.2 481.1h0M129.6 503.0h0M146.6 487.8h0M120.6 479.9h0M133.9 481.5h0M118.5 486.1h0M141.8 486.1h0M115.5 480.7h0M130.5 495.8h0M126.5 500.8h0M143.4 485.2h0M123.3 484.5h0M121.5 484.1h0M138.9 497.1h0M128.4 500.8h0M138.4 488.2h0M109.4 486.0h0M131.8 484.3h0M130.5 495.4h0M142.7 490.7h0M122.9 482.3h0M131.7 483.5h0M128.3 502.3h0M148.0 483.8h0M140.5 494.5h0M119.2 499.1h0M131.5 496.8h0M134.8 498.0h0M130.5 499.3h0M108.9 485.3h0M118.9 491.4h0M110.3 484.5h0M120.2 481.1h0M124.0 505.0h0M119.5 480.1h0M125.2 500.3h0M123.8 503.8h0M135.6 494.2h0M131.6 485.1h0M145.0 480.3h0M134.2 502.4h0M111.1 486.7h0M138.7 483.9h0M135.4 497.1h0M125.4 487.4h0M120.6 481.7h0M119.1 493.8h0M122.1 483.2h0M122.7 490.6h0M134.9 502.1h0M139.9 486.1h0M145.4 483.9h0M140.3 486.0h0M116.0 494.3h0M147.3 486.8h0M137.9 479.8h0M110.0 486.7h0M115.3 480.4h0M114.0 493.0h0M143.0 490.1h0M123.9 495.3h0M109.6 479.9h0M132.2 498.9h0M125.2 486.2h0M118.8 486.0h0M128.3 498.9h0M124.1 503.9h0M133.3 483.9h0M135.0 501.5h0M113.1 485.5h0M114.0 491.4h0M135.0 497.9h0M123.1 490.3h0M137.2 499.5h0M123.6 494.5h0M143.8 485.0h0M122.0 501.2h0M112.9 482.5h0M114.8 487.8h0M119.0 485.8h0M122.6 478.4h0M122.4 478.0h0M115.6 485.3h0M131.9 492.6h0M130.4 501.6h0M123.5 483.5h0M131.5 500.6h0M132.7 504.7h0M131.2 487.5h0M122.2 481.0h0M134.9 497.2h0M141.0 490.9h0M140.1 487.2h0M133.7 501.5h0M136.6 503.9h0M113.1 480.2h0M124.1 505.7h0M132.1 484.9h0M134.9 492.7h0M133.1 506.9h0M120.5 478.3h0M132.1 494.8h0M122.7 485.6h0M122.4 492.3h0M142.0 495.3h0M132.7 503.3h0M140.1 479.3h0M135.8 486.0h0M116.4 494.7h0M133.5 487.6h0M150.9 478.8h0M130.5 499.1h0M133.8 491.9h0M129.7 498.4h0M142.0 484.9h0M120.1 495.0h0M116.4 493.0h0M121.0 501.3h0M130.8 500.4h0M127.8 505.2h0M143.9 489.5h0M147.9 479.9h0M112.2 481.9h0M137.4 494.8h0M142.1 492.7h0M142.5 484.6h0M140.8 496.4h0M119.5 497.8h0M117.7 485.3h0M146.1 485.0h0M136.1 481.5h0M140.4 486.9h0M126.6 501.6h0M145.7 482.7h0M139.8 480.6h0M108.9 485.2h0M145.4 489.9h0M138.0 500.7h0M137.3 481.7h0M118.5 486.2h0M114.9 487.4h0M125.8 494.4h0M116.9 485.5h0M128.2 500.3h0M125.0 506.7h0M122.7 502.3h0M122.4 481.6h0M135.5 486.9h0M118.3 490.9h0M142.9 488.9h0M126.7 489.9h0M115.2 488.9h0M131.7 503.8h0M134.3 488.6h0M132.0 491.0h0M124.1 488.2h0M132.3 493.7h0M116.6 487.1h0M125.6 506.4h0M114.6 479.6h0M121.0 500.7h0M125.4 493.6h0M107.0 479.9h0M136.9 489.0h0M142.9 486.8h0M130.6 497.0h0M133.9 486.1h0M115.8 483.4h0M142.7 491.1h0M121.1 501.4h0M135.2 489.4h0M136.1 493.4h0M138.2 486.7h0M137.6 486.7h0M121.2 500.1h0M123.0 500.3h0M130.5 499.9h0M115.1 491.7h0M117.0 497.3h0M134.4 490.9h0M135.9 484.0h0M132.7 499.1h0M119.4 487.9h0M121.1 499.2h0M111.8 480.8h0M137.2 494.3h0M119.8 483.8h0M119.3 478.4h0M117.6 484.2h0M122.0 481.5h0M116.6 494.8h0M119.1 493.3h0M138.5 488.0h0M141.6 494.3h0M120.2 481.9h0M133.1 480.9h0M146.0 479.0h0M116.0 493.5h0M121.2 492.5h0M124.7 506.5h0M137.9 479.2h0M110.4 482.3h0M144.8 481.7h0M140.4 491.6h0M120.6 489.5h0M146.2 483.8h0M132.8 480.9h0M138.4 487.2h0M124.0 499.8h0M142.1 491.7h0M118.9 493.8h0M124.7 506.3h0M149.2 480.4h0M138.6 495.6h0M132.5 501.6h0M121.6 475.5h0M122.2 474.7h0M123.8 476.3h0M124.4 471.7h0M124.4 477.6h0M122.1 459.4h0M123.1 469.3h0M123.4 472.4h0M125.2 470.9h0M124.7 475.5h0M124.3 470.2h0M123.9 464.0h0M121.5 469.1h0M124.0 464.9h0M121.7 474.6h0M124.8 477.5h0M121.8 469.4h0M124.1 474.5h0M122.8 475.7h0M123.9 472.0h0M123.3 465.4h0M123.8 465.9h0M122.1 463.9h0M123.2 465.8h0M122.4 452.2h0M123.9 475.5h0M121.8 454.3h0M125.4 474.3h0M122.1 447.4h0M122.9 462.9h0M122.8 477.4h0M124.2 463.7h0M121.6 472.6h0M124.9 471.0h0M123.1 473.2h0M122.0 468.0h0M123.3 475.9h0M124.5 471.2h0M122.1 454.2h0M123.8 463.2h0M122.3 472.6h0M123.3 462.4h0M123.0 474.3h0M122.5 476.9h0M123.8 463.8h0M122.2 467.5h0M122.3 463.0h0M122.3 462.9h0M124.0 464.0h0M124.5 476.7h0M124.2 473.2h0M123.4 468.8h0M123.6 477.8h0M121.7 449.9h0M122.9 460.3h0M123.2 465.3h0M122.7 453.1h0M122.5 473.5h0M123.0 469.6h0M124.5 469.5h0M123.6 478.0h0M121.5 476.3h0M124.7 475.9h0M123.8 476.2h0M123.5 464.6h0M122.0 475.4h0M123.0 462.6h0M124.6 473.2h0M122.2 475.5h0M121.9 468.8h0M122.9 471.8h0M121.4 470.1h0M124.8 477.4h0M121.8 468.2h0M123.3 471.5h0M122.0 466.1h0M124.9 470.3h0M124.1 467.9h0M124.1 463.6h0M122.8 468.1h0M123.7 476.0h0M125.2 473.7h0M123.4 477.5h0M125.1 475.8h0M121.4 448.3h0M124.5 466.2h0M122.9 471.0h0M123.1 465.5h0M122.0 470.9h0M123.9 477.7h0M121.6 472.6h0M122.9 475.5h0M121.8 477.3h0M121.9 473.0h0M124.8 477.6h0M121.9 470.0h0M121.7 459.9h0M123.8 469.8h0M122.0 456.0h0M121.7 468.9h0M122.9 462.3h0M123.2 463.3h0M121.4 477.4h0M122.1 449.6h0M121.5 461.8h0M122.9 458.2h0M121.4 454.3h0M122.8 474.8h0M122.6 472.2h0M122.1 462.0h0M121.8 470.6h0M124.7 467.5h0M122.6 463.1h0M122.7 464.9h0M123.4 476.3h0M123.9 463.3h0M124.5 468.9h0M122.7 471.0h0M123.9 468.6h0M124.1 463.0h0M136.8 449.3h0M133.9 469.8h0M133.3 476.6h0M134.4 476.5h0M134.5 471.1h0M134.2 461.3h0M135.4 453.0h0M132.6 474.7h0M132.6 473.8h0M136.9 442.6h0M135.8 441.0h0M135.7 466.5h0M133.1 470.6h0M136.3 457.1h0M136.2 461.0h0M132.5 474.9h0M134.0 462.4h0M136.7 461.8h0M136.2 444.6h0M134.5 456.4h0M136.0 475.6h0M136.9 440.8h0M135.4 474.2h0M134.0 476.7h0M135.7 445.4h0M133.5 475.0h0M136.3 447.1h0M133.3 476.9h0M134.0 459.6h0M134.4 455.8h0M136.0 465.7h0M136.8 476.8h0M135.5 456.9h0M134.6 463.0h0M136.8 448.5h0M136.4 460.5h0M134.6 468.8h0M135.8 459.9h0M136.8 461.2h0M134.3 472.2h0M136.9 463.5h0M133.8 466.5h0M134.6 470.8h0M135.6 458.0h0M136.4 475.5h0M135.0 451.5h0M133.1 469.5h0M134.4 475.0h0M136.5 456.8h0M136.6 457.5h0M134.7 458.4h0M136.6 468.5h0M134.5 464.1h0M136.0 462.1h0M135.2 475.0h0M134.8 470.3h0M133.7 470.4h0M136.7 462.7h0M134.8 474.2h0M134.2 475.4h0M134.2 474.1h0M135.2 456.4h0M133.5 466.6h0M132.6 476.9h0M135.6 450.2h0M133.9 472.8h0M134.7 457.3h0M132.8 472.1h0M134.0 466.4h0M136.4 464.2h0M136.1 449.3h0M134.9 462.2h0M134.2 468.3h0M136.2 465.4h0M134.2 473.2h0M134.2 457.9h0M133.0 475.5h0M136.8 449.1h0M136.7 468.5h0M132.6 475.3h0M136.1 472.2h0M136.7 463.8h0M134.1 472.7h0M135.6 463.9h0M136.4 452.6h0M136.8 471.0h0M136.7 466.7h0M135.9 470.3h0M136.1 469.3h0M137.0 440.4h0M136.7 452.3h0M136.1 459.3h0M136.7 449.1h0M135.8 455.3h0M133.5 468.2h0M136.7 445.6h0M135.0 452.6h0M133.4 466.3h0M135.3 464.1h0M133.0 474.3h0M135.8 465.0h0M134.6 464.3h0M136.7 452.9h0M136.2 452.9h0M135.1 458.4h0M136.8 473.0h0M136.0 439.0h0M136.9 473.0h0M134.7 455.5h0M136.2 461.0h0M134.1 470.7h0M135.8 447.3h0M135.2 457.9h0M133.8 475.6h0M136.3 461.2h0M136.6 471.6h0M134.6 460.1h0M134.6 477.6h0M136.7 457.6h0M135.1 462.7h0M136.7 449.8h0M133.3 473.8h0M135.6 462.0h0M136.4 476.8h0M133.0 470.9h0M136.0 470.1h0M133.3 469.8h0M134.2 472.9h0M135.5 465.1h0M134.5 460.1h0M134.0 459.6h0M133.4 465.6h0M135.1 475.1h0M134.2 473.2h0M135.8 457.2h0M134.0 467.1h0M132.7 472.7h0M133.8 466.2h0M134.9 457.7h0M136.8 449.5h0M136.7 446.3h0M136.1 458.7h0M136.4 455.8h0M134.1 463.9h0M135.4 462.6h0M135.8 440.5h0M136.2 460.4h0M135.6 449.1h0M134.1 464.7h0M136.0 444.4h0M136.1 477.4h0M135.4 457.7h0M136.4 460.6h0M135.6 460.9h0M134.0 463.3h0M135.1 454.2h0M134.2 466.6h0M136.4 452.5h0M135.4 448.8h0M135.0 449.6h0M135.9 473.4h0M135.2 472.4h0M135.1 456.6h0M135.8 477.8h0M134.4 467.4h0M136.1 465.9h0M134.0 460.9h0M136.8 446.2h0M135.8 472.7h0M136.6 452.9h0M136.7 459.8h0M135.9 448.0h0M135.2 450.7h0M135.7 461.2h0M135.7 450.6h0M137.0 462.7h0M136.9 448.4h0M136.3 465.6h0M136.9 466.9h0M135.7 469.1h0M134.2 461.5h0M136.1 474.8h0M133.1 474.2h0M136.9 477.7h0M136.0 464.0h0M135.9 441.3h0M136.2 463.2h0M136.3 469.2h0M134.5 457.7h0M136.2 466.8h0M134.0 461.3h0M135.1 473.2h0M135.7 465.2h0M132.7 477.9h0M136.7 453.0h0M135.8 450.8h0M135.8 454.6h0M133.7 467.1h0M136.5 468.7h0M135.1 451.1h0M146.9 486.6h0M149.2 480.1h0M114.8 485.7h0M108.2 489.5h0M136.6 483.7h0M102.9 480.0h0M123.7 489.7h0M108.1 484.3h0M104.4 489.6h0M141.8 487.4h0M142.0 478.5h0M113.5 476.5h0M130.9 477.1h0M110.5 478.4h0M151.5 487.1h0M116.0 489.6h0M108.9 478.0h0M121.4 487.3h0M105.5 487.0h0M130.5 487.2h0M118.8 476.6h0M105.5 486.1h0M128.4 486.7h0M111.1 479.9h0M111.8 487.9h0" stroke="#bccbc8" stroke-width="2.1" stroke-linecap="round" fill="none"/>
<path d="M109.7 435.5h0M108.1 461.8h0M115.4 472.6h0M113.2 445.5h0M119.9 457.3h0M105.9 456.7h0M111.2 460.3h0M107.5 453.3h0M119.0 443.2h0M110.5 474.7h0M103.8 426.6h0M109.4 446.5h0M86.3 434.6h0M120.5 462.5h0M98.4 454.9h0M100.0 477.3h0M91.8 457.7h0M119.5 475.3h0M115.4 474.9h0M106.8 461.4h0M105.4 476.3h0M114.7 475.9h0M117.5 472.5h0M96.0 468.9h0M103.9 454.9h0M118.4 458.0h0M110.8 455.8h0M113.7 451.1h0M99.4 451.3h0M112.2 452.5h0M96.9 474.2h0M117.1 476.6h0M111.6 455.5h0M119.8 455.7h0M120.4 467.6h0M106.8 464.5h0M95.5 462.7h0M118.1 448.0h0M110.9 461.8h0M104.9 452.7h0M109.6 473.5h0M113.6 476.2h0M105.4 463.1h0M106.8 464.0h0M109.6 472.9h0M103.0 463.7h0M106.1 449.3h0M105.3 461.5h0M112.1 458.0h0M93.0 459.5h0M114.9 448.6h0M102.8 444.7h0M110.0 458.2h0M100.0 459.1h0M110.2 465.4h0M113.7 442.1h0M111.5 477.9h0M120.1 444.3h0M121.2 447.7h0M101.8 470.3h0M118.3 475.5h0M113.3 460.7h0M114.1 451.2h0M119.1 466.2h0M116.8 463.2h0M102.9 452.3h0M108.2 477.8h0M113.6 454.7h0M98.6 451.5h0M97.6 455.5h0M104.4 442.2h0M112.1 444.9h0M115.5 454.2h0M117.5 456.6h0M115.6 441.5h0M104.0 474.8h0M97.5 460.5h0M111.1 432.1h0M116.8 473.2h0M108.0 456.0h0M108.6 451.3h0M115.3 441.0h0M109.5 476.1h0M100.4 446.3h0M97.6 466.8h0M113.6 445.9h0M111.9 438.9h0M111.0 451.2h0M112.9 431.2h0M104.5 455.9h0M114.4 448.7h0M107.9 436.6h0M101.3 449.6h0M103.9 438.4h0M90.6 449.6h0M111.5 471.4h0M117.9 472.5h0M98.5 438.5h0M109.9 448.0h0M100.0 476.6h0M119.2 474.3h0M109.9 463.6h0M112.5 435.3h0M109.0 430.0h0M117.0 464.7h0M115.4 464.6h0M119.0 461.9h0M98.2 462.3h0M90.6 449.2h0M104.7 457.6h0M103.4 447.8h0M121.2 455.1h0M111.7 466.5h0M110.8 447.0h0M112.6 462.1h0M111.9 475.3h0M109.9 467.8h0M106.1 467.7h0M104.6 461.2h0M112.6 439.7h0M103.8 469.8h0M117.3 460.5h0M99.4 436.9h0M100.3 456.8h0M116.9 464.8h0M105.1 444.3h0M104.9 453.9h0M107.5 471.8h0M106.5 465.0h0M101.7 466.7h0M114.6 448.0h0M98.0 470.9h0M110.0 468.7h0M108.1 459.4h0M112.6 452.9h0M121.0 465.9h0M115.4 461.9h0M119.7 473.0h0M100.5 451.5h0M117.2 469.0h0M101.6 467.6h0M99.6 431.1h0M115.2 449.8h0M85.6 430.5h0M106.1 470.1h0M115.2 459.6h0M99.4 465.6h0M112.0 471.3h0M96.7 472.0h0M111.6 461.4h0M108.6 468.9h0M109.0 458.5h0M101.2 473.7h0M99.6 449.9h0M114.8 474.9h0M120.8 461.2h0M112.1 441.8h0M114.4 447.2h0M121.0 464.7h0M105.4 454.6h0M105.3 474.3h0M104.9 464.3h0M98.0 456.2h0M106.9 459.3h0M121.1 443.3h0M93.5 451.0h0M93.2 463.8h0M94.0 450.4h0M98.1 453.7h0M114.6 473.5h0M112.5 448.2h0M105.1 466.2h0M118.5 462.2h0M100.0 448.2h0M115.2 473.8h0M100.1 469.2h0M116.6 447.3h0M105.5 440.7h0M110.6 454.6h0M97.4 456.0h0M101.6 455.8h0M106.8 453.7h0M104.7 448.0h0M104.4 466.0h0M110.3 461.7h0M104.8 459.7h0M105.6 473.6h0M114.0 455.2h0M114.7 461.0h0M98.1 425.2h0M107.3 453.6h0M115.4 476.5h0M118.8 476.5h0M104.5 477.5h0M120.3 454.9h0M108.4 463.7h0M97.4 437.3h0M120.4 452.9h0M103.7 452.2h0M91.3 436.3h0M113.7 461.0h0M98.1 436.9h0M107.3 472.4h0M106.1 446.2h0M111.6 461.0h0M118.7 453.0h0M109.0 450.6h0M114.5 454.4h0M110.6 435.4h0M106.8 427.3h0M100.9 438.8h0M108.3 465.5h0M117.3 462.4h0M104.0 439.0h0M116.1 471.3h0M99.8 436.5h0M116.4 460.4h0M101.8 471.2h0M114.0 475.2h0M119.6 476.4h0M113.8 440.1h0M109.9 433.7h0M121.2 468.5h0M112.0 461.4h0M113.3 474.4h0M111.8 460.3h0M105.5 453.0h0M114.3 459.0h0M106.7 465.6h0M120.8 461.8h0M106.2 455.0h0M120.0 461.4h0M119.2 464.6h0M100.2 445.9h0M102.7 472.6h0M111.9 465.2h0M106.0 476.2h0M97.1 459.4h0M101.6 467.5h0M101.2 477.4h0M101.4 446.1h0M113.3 446.4h0M109.3 442.4h0M111.1 450.7h0M110.3 452.9h0M110.1 445.3h0M117.7 438.9h0M118.8 469.5h0M115.1 459.0h0M119.4 466.9h0M113.5 436.8h0M112.9 453.0h0M117.1 467.9h0M109.0 426.5h0M98.2 458.6h0M91.3 427.9h0M96.7 455.7h0M115.6 476.6h0M104.7 443.6h0M103.2 476.6h0M95.9 448.7h0M113.6 463.9h0M107.3 463.8h0M105.3 471.2h0M99.0 473.8h0M111.0 447.7h0M92.8 467.7h0M118.1 470.7h0M109.6 444.7h0M103.9 475.4h0M108.1 432.3h0M103.4 452.3h0M106.6 471.8h0M101.5 468.1h0M113.8 476.2h0M100.3 434.2h0M87.5 432.5h0M101.0 455.9h0M114.6 461.3h0M111.5 442.2h0M107.3 465.6h0M119.4 475.6h0M114.2 432.5h0M113.0 442.6h0M107.8 457.7h0M112.0 458.6h0M115.7 445.5h0M120.9 470.5h0M116.6 473.1h0M111.2 455.1h0M107.8 454.3h0M96.6 460.5h0M108.9 443.5h0M108.2 457.1h0M115.0 473.9h0M120.3 441.8h0M113.2 441.3h0M117.6 467.9h0M106.5 458.7h0M92.4 467.0h0M97.9 467.1h0M93.9 463.3h0M112.7 460.7h0M106.4 453.2h0M92.0 425.4h0M114.2 470.9h0M116.1 444.9h0M110.3 453.1h0M102.5 451.6h0M113.3 477.8h0M107.3 454.2h0M117.3 443.7h0M91.0 437.9h0M101.2 452.6h0M117.3 447.3h0M97.3 458.1h0M113.0 462.4h0M113.4 456.3h0M118.7 439.4h0M89.0 442.5h0M119.9 455.5h0M93.5 465.8h0M104.1 449.3h0M98.4 477.0h0M107.9 463.3h0M110.6 475.7h0M120.2 443.5h0M117.0 469.2h0M116.1 451.2h0M115.5 442.6h0M112.4 453.6h0M110.6 472.8h0M115.1 442.0h0M98.5 448.9h0M104.5 476.9h0M119.6 461.6h0M108.9 440.8h0M108.1 474.3h0M121.2 453.3h0M93.3 460.1h0M94.3 447.2h0M86.4 429.8h0M117.2 457.6h0M92.2 442.5h0M113.2 448.7h0M98.0 440.4h0M116.3 474.1h0M92.7 427.5h0M120.2 439.5h0M116.9 477.3h0M114.1 462.6h0M113.0 443.2h0M106.0 457.6h0M90.2 438.7h0M118.2 456.3h0M105.6 451.6h0M107.7 456.9h0M95.5 465.4h0M108.6 475.7h0M108.5 460.8h0M109.6 473.4h0M109.8 474.1h0M109.3 436.1h0M97.1 475.1h0M119.5 476.5h0M110.7 477.4h0M110.4 467.1h0M91.4 459.9h0M100.5 432.9h0M108.4 460.4h0M115.8 433.9h0M100.2 435.7h0M106.2 475.2h0M120.1 442.7h0M111.1 467.3h0M100.7 446.8h0M95.1 449.1h0M102.9 450.1h0M107.9 472.4h0M115.3 460.1h0M114.4 465.1h0M103.2 470.3h0M110.5 455.4h0M120.3 469.9h0M119.2 449.2h0M96.1 461.2h0M105.6 457.8h0M90.2 442.3h0M112.5 432.5h0M103.8 461.4h0M98.5 467.2h0M97.0 464.5h0M118.2 441.7h0M117.1 462.7h0M115.4 474.6h0M105.7 439.1h0M103.9 474.8h0M107.8 428.3h0M99.1 453.0h0M107.6 450.4h0M119.2 462.2h0M110.6 465.8h0M92.0 458.8h0M117.1 474.2h0M117.9 466.1h0M104.6 472.2h0M109.9 441.5h0M114.7 461.0h0M112.7 451.4h0M90.1 452.7h0M118.3 476.1h0M110.0 427.0h0M108.7 477.8h0M117.5 454.6h0M101.4 444.0h0M92.5 434.9h0M121.1 462.0h0M98.5 470.3h0M95.5 452.9h0M120.7 459.7h0M102.1 448.6h0M96.4 450.6h0M117.0 473.5h0M106.1 450.8h0M118.9 472.2h0M103.7 464.7h0M111.5 456.0h0M107.9 460.2h0M108.7 459.6h0M104.5 477.8h0M92.8 438.4h0M120.4 463.9h0M100.7 448.1h0M118.8 455.5h0M94.2 437.4h0M92.1 464.4h0M116.8 441.5h0M111.9 476.8h0M110.7 449.5h0M98.7 463.9h0M120.0 457.6h0M114.6 435.6h0M115.6 440.2h0M103.4 464.7h0M120.9 464.0h0M118.2 466.3h0M104.7 442.0h0M105.9 471.1h0M117.6 477.3h0M104.8 450.7h0M115.4 475.4h0M105.9 477.6h0M91.1 446.0h0M110.5 476.5h0M99.2 452.3h0M111.7 461.6h0M119.1 471.4h0M110.8 447.8h0M101.5 474.7h0M111.0 450.0h0M117.0 464.7h0M110.8 430.2h0M112.7 461.8h0M111.6 469.2h0M104.7 453.1h0M115.6 468.1h0M108.0 477.7h0M111.8 455.1h0M109.3 449.8h0M118.8 471.2h0M106.0 438.5h0M114.6 468.6h0M113.8 466.6h0M104.9 455.2h0M115.9 452.7h0M111.0 464.9h0M112.1 432.6h0M111.4 473.1h0M89.8 459.7h0M121.3 454.1h0M109.1 461.2h0M98.7 468.5h0M106.4 445.1h0M121.0 449.1h0M114.2 436.0h0M90.0 430.7h0M105.7 455.7h0M104.9 435.0h0M95.6 441.1h0M117.4 457.7h0M100.2 469.3h0M100.0 456.3h0M117.2 450.8h0M120.2 445.5h0M115.3 460.4h0M108.4 471.2h0M100.2 459.2h0M95.7 461.7h0M121.1 469.4h0M106.5 445.3h0M109.1 471.3h0M108.7 475.8h0M120.7 449.1h0M106.5 470.0h0M117.6 462.4h0M107.1 440.9h0M115.5 476.4h0M106.6 428.5h0M117.6 440.9h0M118.3 466.4h0M113.2 469.1h0M106.0 457.7h0M118.2 458.3h0M105.9 465.0h0M110.1 442.7h0M97.3 474.7h0M105.4 427.5h0M108.0 439.1h0M119.3 473.5h0M115.6 450.0h0M93.1 432.4h0M89.5 441.9h0M95.4 470.3h0M103.2 470.1h0M111.3 453.8h0M117.3 467.2h0M119.9 455.6h0M110.7 434.6h0M116.4 455.0h0M110.2 463.2h0M100.3 452.1h0M114.3 463.8h0M109.7 460.5h0M102.1 460.7h0M99.7 464.4h0M116.6 435.2h0M95.9 443.1h0M113.7 445.0h0M92.1 451.2h0M103.9 442.4h0M99.7 440.5h0M107.9 448.6h0M113.4 474.3h0M115.8 444.8h0M95.6 455.8h0M118.0 452.3h0M113.7 452.8h0M120.2 456.3h0M120.9 472.9h0M114.2 477.1h0M109.7 467.2h0M106.5 475.9h0M110.2 432.7h0M96.2 459.6h0M108.8 431.4h0M121.3 476.0h0M116.7 475.1h0M97.0 450.2h0M110.7 440.1h0M109.1 438.6h0M110.1 448.1h0M106.7 474.8h0M110.9 466.1h0M104.4 433.0h0M107.0 434.2h0M105.6 446.8h0M93.7 459.5h0M119.8 440.1h0M115.9 447.9h0M116.7 466.8h0M119.3 472.3h0M89.7 449.3h0M112.4 472.3h0M118.0 473.2h0M91.0 433.3h0M97.6 463.6h0M111.0 475.8h0M99.4 464.3h0M115.6 477.8h0M121.0 467.9h0M74.7 455.9h0M67.2 442.6h0M89.8 469.2h0M68.9 448.8h0M75.3 454.0h0M80.6 439.0h0M85.7 458.3h0M80.5 460.4h0M70.4 429.9h0M86.8 457.2h0M85.0 461.6h0M69.6 464.9h0" stroke="#adefe7" stroke-width="2.1" stroke-linecap="round" fill="none"/>
<path d="M156.6 471.3h0M139.8 472.4h0M146.9 455.2h0M141.5 462.8h0M150.1 464.7h0M156.1 459.2h0M138.2 472.1h0M151.4 457.1h0M147.5 467.6h0M141.3 456.7h0M143.9 465.7h0M154.0 476.5h0M137.9 451.1h0M169.3 439.8h0M161.6 462.8h0M156.3 463.1h0M143.1 476.0h0M137.6 443.1h0M160.6 435.0h0M139.5 467.7h0M142.6 444.5h0M162.1 432.3h0M145.1 460.1h0M140.4 448.0h0M158.5 453.3h0M143.3 471.5h0M157.2 462.3h0M141.6 470.1h0M165.5 453.7h0M151.2 431.9h0M149.9 476.8h0M137.5 443.7h0M146.7 475.7h0M156.9 470.8h0M143.8 467.0h0M150.6 454.0h0M145.0 475.2h0M137.9 468.5h0M145.0 456.5h0M149.9 463.7h0M147.6 434.7h0M151.2 436.6h0M151.2 466.4h0M148.4 439.6h0M143.8 429.7h0M141.3 454.8h0M152.3 442.1h0M141.8 473.9h0M143.9 451.1h0M147.5 457.4h0M139.8 466.0h0M139.9 466.8h0M147.8 444.0h0M147.9 443.9h0M158.2 451.3h0M144.3 457.7h0M147.6 452.9h0M139.2 455.0h0M147.7 475.7h0M142.3 461.5h0M140.1 439.9h0M142.8 448.8h0M142.2 441.7h0M139.2 460.4h0M146.1 433.4h0M141.3 469.5h0M142.6 462.9h0M154.2 469.0h0M142.8 470.6h0M162.2 456.7h0M148.6 474.1h0M161.6 462.7h0M147.8 453.0h0M151.4 475.3h0M142.7 451.7h0M143.1 464.4h0M141.3 464.0h0M140.2 451.1h0M142.0 477.8h0M141.8 470.4h0M149.8 464.4h0M155.8 447.1h0M151.8 477.8h0M137.3 474.7h0M145.9 473.0h0M149.6 453.7h0M146.9 462.5h0M142.6 476.6h0M140.3 471.2h0M155.8 435.0h0M166.2 431.5h0M145.9 442.8h0M162.6 442.0h0M137.9 466.5h0M141.4 449.2h0M148.5 474.3h0M145.2 471.2h0M156.7 471.1h0M154.4 428.8h0M141.9 466.8h0M147.1 476.6h0M143.5 448.6h0M140.2 459.4h0M144.2 444.0h0M141.6 457.7h0M153.1 433.2h0M144.2 456.7h0M137.7 458.1h0M152.8 437.4h0M143.9 455.0h0M150.2 472.2h0M154.3 459.3h0M150.2 450.0h0M143.7 439.1h0M137.9 470.1h0M154.9 456.9h0M156.2 468.1h0M139.4 443.5h0M139.4 460.5h0M143.8 458.8h0M148.6 460.9h0M138.4 460.5h0M153.8 441.9h0M142.0 429.4h0M142.5 452.0h0M139.7 470.0h0M147.0 459.9h0M137.9 453.7h0M152.7 469.0h0M157.6 454.4h0M141.0 475.3h0M146.4 458.0h0M144.6 476.7h0M142.1 467.9h0M158.9 447.7h0M148.5 463.2h0M154.0 466.5h0M141.6 461.8h0M158.7 439.6h0M148.5 474.0h0M143.7 471.3h0M138.6 474.8h0M144.2 452.3h0M154.2 463.9h0M152.9 451.0h0M148.0 475.3h0M156.6 454.6h0M138.2 460.5h0M149.6 458.3h0M139.4 436.7h0M146.3 474.6h0M147.4 457.4h0M150.5 474.4h0M141.7 469.2h0M160.6 441.0h0M137.6 475.7h0M139.2 469.0h0M151.7 471.0h0M150.3 438.6h0M151.8 473.5h0M154.7 474.1h0M141.5 441.7h0M164.8 452.9h0M137.4 477.4h0M152.7 428.9h0M145.2 455.8h0M145.3 459.2h0M140.2 447.4h0M160.7 448.8h0M142.8 429.6h0M160.0 460.6h0M144.3 447.8h0M149.1 463.5h0M145.8 465.7h0M145.1 463.2h0M149.1 445.1h0M141.4 455.8h0M141.6 444.9h0M150.8 474.3h0M139.2 449.0h0M144.9 440.5h0M137.3 477.8h0M157.4 435.5h0M155.5 473.9h0M138.9 442.4h0M145.3 461.0h0M145.2 457.4h0M143.6 431.1h0M152.2 430.3h0M145.6 454.3h0M146.5 450.8h0M141.7 465.1h0M147.4 462.3h0M139.2 448.2h0M154.4 451.4h0M146.4 449.6h0M153.2 443.8h0M143.0 443.7h0M155.9 459.9h0M138.2 443.5h0M151.5 468.5h0M140.1 453.0h0M163.9 455.8h0M141.9 449.4h0M143.3 468.3h0M138.2 465.9h0M153.1 470.1h0M152.8 458.3h0M145.5 477.2h0M138.5 445.1h0M148.6 469.9h0M139.7 466.1h0M140.8 464.1h0M137.5 471.9h0M143.2 465.3h0M151.1 462.1h0M146.5 463.7h0M148.9 449.0h0M146.9 466.0h0M142.7 475.0h0M141.6 455.3h0M144.1 470.0h0M138.2 451.5h0M153.7 474.1h0M142.7 476.3h0M147.2 437.6h0M154.3 472.1h0M144.0 459.6h0M142.6 456.9h0M141.0 476.9h0M146.0 469.8h0M141.2 471.7h0M151.7 467.0h0M154.7 432.7h0M144.8 439.4h0M152.2 459.2h0M142.8 476.4h0M141.9 456.0h0M138.4 442.6h0M149.2 475.5h0M141.2 460.6h0M139.8 460.1h0M140.2 473.9h0M145.1 448.5h0M139.6 439.8h0M137.6 446.3h0M142.7 476.5h0M142.1 446.6h0M143.9 462.8h0M137.7 475.4h0M156.3 466.3h0M144.3 467.6h0M141.5 441.4h0M146.4 454.8h0M148.7 465.6h0M144.1 436.3h0M148.7 452.4h0M143.1 456.6h0M156.1 466.2h0M138.2 443.2h0M163.3 444.6h0M163.8 456.8h0M147.8 449.1h0M153.7 451.5h0M140.3 451.1h0M151.2 475.7h0M153.5 435.5h0M147.4 462.8h0M141.7 471.3h0M138.3 446.6h0M154.0 475.5h0M147.6 472.0h0M144.1 473.9h0M138.2 467.7h0M144.0 452.7h0M152.5 467.7h0M138.9 472.2h0M153.1 460.7h0M145.9 454.3h0M144.0 468.0h0M142.3 466.7h0M149.1 471.1h0M148.2 459.0h0M142.7 464.7h0M144.9 475.0h0M154.7 454.0h0M151.5 441.2h0M139.5 472.0h0M145.4 453.9h0M145.7 455.3h0M145.1 454.0h0M148.0 452.4h0M149.0 453.0h0M138.8 443.2h0M141.4 443.7h0M147.3 475.4h0M143.0 455.2h0M146.5 473.4h0M146.3 439.3h0M146.4 468.6h0M145.7 470.7h0M149.5 465.6h0M140.3 476.6h0M141.3 464.1h0M141.0 442.8h0M138.3 455.2h0M143.6 435.8h0M156.4 447.8h0M146.7 432.5h0M145.3 437.9h0M144.3 474.4h0M137.7 445.6h0M149.6 454.8h0M139.4 469.0h0M150.1 439.8h0M145.6 460.5h0M160.5 439.6h0M149.6 448.0h0M144.6 438.7h0M150.9 466.3h0M138.2 469.0h0M161.0 449.0h0M158.6 430.6h0M145.4 445.4h0M143.0 464.0h0M143.2 445.3h0M138.4 439.7h0M143.7 468.3h0M137.7 473.3h0M143.5 469.3h0M137.5 463.3h0M143.5 471.3h0M138.5 463.5h0M156.9 456.8h0M151.2 469.2h0M146.5 474.5h0M140.8 464.5h0M140.6 449.6h0M154.1 455.2h0M149.8 454.2h0M144.5 458.4h0M155.2 466.8h0M153.9 474.5h0M152.9 449.3h0M149.9 434.4h0M139.3 437.9h0M139.5 440.1h0M144.0 471.3h0M151.0 476.4h0M158.6 461.1h0M150.3 462.3h0M155.2 449.1h0M139.9 442.1h0M143.9 442.3h0M158.3 463.5h0M150.0 450.8h0M138.7 476.4h0M149.5 476.9h0M140.5 471.5h0M159.8 442.9h0M172.7 449.9h0M180.7 446.6h0M178.6 433.0h0M185.3 434.1h0M182.7 455.8h0M180.9 429.9h0M159.2 426.8h0M174.5 451.1h0M184.6 451.7h0M175.1 439.0h0M188.9 435.6h0M169.0 430.0h0M174.2 450.7h0" stroke="#ffaaee" stroke-width="2.1" stroke-linecap="round" fill="none"/>
<path d="M54.8 358.8h0M44.3 374.4h0M53.7 370.2h0M56.2 376.5h0M40.2 382.5h0M43.7 381.0h0M47.9 391.2h0M66.4 374.2h0M68.7 374.2h0M71.0 376.7h0M73.1 373.3h0M77.0 369.4h0M77.3 371.9h0M62.5 380.2h0M63.9 381.2h0M70.2 384.2h0M84.1 381.5h0M61.6 390.6h0M71.0 390.8h0M82.2 388.3h0M83.1 387.7h0M87.9 389.8h0M91.4 387.7h0M96.8 392.7h0M79.3 395.4h0M81.2 396.5h0M95.2 397.3h0M101.4 396.0h0M79.3 399.8h0M84.1 400.8h0M99.5 399.8h0M72.5 402.7h0M72.0 405.6h0M87.0 402.7h0M88.9 403.7h0M97.5 402.7h0M85.0 406.2h0M86.0 407.5h0M80.2 396.1h0M95.3 397.4h0M78.8 399.7h0M84.0 400.7h0M100.0 400.1h0M72.4 402.8h0M87.6 403.3h0M98.0 402.8h0M72.1 405.5h0M84.2 405.5h0M85.6 407.1h0M94.7 407.1h0M90.3 407.8h0M63.0 409.5h0M66.1 408.7h0M74.5 409.8h0M78.2 411.2h0M85.6 410.9h0M92.3 409.5h0M93.0 411.4h0M98.4 410.5h0M105.1 409.5h0M109.5 410.1h0M106.8 412.2h0M93.6 413.2h0M101.0 413.2h0M69.2 414.9h0M69.4 415.9h0M86.2 415.9h0M88.9 416.3h0M91.6 416.5h0M95.0 415.5h0M107.8 415.9h0M79.5 417.6h0M81.5 417.9h0M83.1 417.6h0M86.2 417.6h0M95.7 417.9h0M99.0 417.9h0M105.8 418.1h0M110.5 419.0h0M75.1 420.3h0M78.8 419.9h0M88.9 419.9h0M95.0 420.3h0M102.4 419.5h0M107.8 419.9h0M84.9 421.9h0M88.9 421.9h0M93.6 422.2h0M100.4 421.9h0M106.4 423.5h0M105.8 425.3h0M77.5 424.6h0" stroke="#1a1ef5" stroke-width="2.3" stroke-linecap="round" fill="none"/>
<path d="M206.8 389.3h0M189.4 391.5h0M192.2 390.9h0M191.2 400.0h0M213.7 411.0h0M167.1 406.1h0M168.0 412.1h0M182.7 412.1h0M184.1 412.1h0M159.3 413.8h0M160.2 414.9h0M137.7 415.6h0M173.9 416.1h0M184.3 415.8h0M187.6 418.9h0M157.8 423.4h0M158.9 424.7h0M164.7 424.7h0M172.0 423.4h0M172.4 425.3h0M175.2 424.9h0M192.7 424.0h0" stroke="#f0063c" stroke-width="2.3" stroke-linecap="round" fill="none"/>
<path d="M121.63,345.5V507.7M137.17,345.5V507.7M36.2,477.58H222.8" stroke="#333" stroke-width="0.9" stroke-dasharray="1 1.6" fill="none"/>
<rect x="36.2" y="345.5" width="186.60" height="162.20" fill="none" stroke="#111" stroke-width="1.5"/>
<path d="M36.16,507.7V510.50M51.70,507.7V510.50M67.24,507.7V510.50M82.78,507.7V510.50M98.32,507.7V510.50M113.86,507.7V510.50M129.40,507.7V510.50M144.94,507.7V510.50M160.48,507.7V510.50M176.02,507.7V510.50M191.56,507.7V510.50M207.10,507.7V510.50M222.64,507.7V510.50M33.40,507.70H36.2M33.40,484.53H36.2M33.40,461.36H36.2M33.40,438.19H36.2M33.40,415.02H36.2M33.40,391.85H36.2M33.40,368.68H36.2M33.40,345.51H36.2" stroke="#111" stroke-width="1.1" fill="none"/>
<text x="34.56" y="519.00" font-size="6.6" fill="#222" stroke="#222" stroke-width="0.1" text-anchor="middle">–12</text>
<text x="50.10" y="519.00" font-size="6.6" fill="#222" stroke="#222" stroke-width="0.1" text-anchor="middle">–10</text>
<text x="65.64" y="519.00" font-size="6.6" fill="#222" stroke="#222" stroke-width="0.1" text-anchor="middle">–8</text>
<text x="81.18" y="519.00" font-size="6.6" fill="#222" stroke="#222" stroke-width="0.1" text-anchor="middle">–6</text>
<text x="96.72" y="519.00" font-size="6.6" fill="#222" stroke="#222" stroke-width="0.1" text-anchor="middle">–4</text>
<text x="112.26" y="519.00" font-size="6.6" fill="#222" stroke="#222" stroke-width="0.1" text-anchor="middle">–2</text>
<text x="129.40" y="519.00" font-size="6.6" fill="#222" stroke="#222" stroke-width="0.1" text-anchor="middle">0</text>
<text x="144.94" y="519.00" font-size="6.6" fill="#222" stroke="#222" stroke-width="0.1" text-anchor="middle">2</text>
<text x="160.48" y="519.00" font-size="6.6" fill="#222" stroke="#222" stroke-width="0.1" text-anchor="middle">4</text>
<text x="176.02" y="519.00" font-size="6.6" fill="#222" stroke="#222" stroke-width="0.1" text-anchor="middle">6</text>
<text x="191.56" y="519.00" font-size="6.6" fill="#222" stroke="#222" stroke-width="0.1" text-anchor="middle">8</text>
<text x="207.10" y="519.00" font-size="6.6" fill="#222" stroke="#222" stroke-width="0.1" text-anchor="middle">10</text>
<text x="222.64" y="519.00" font-size="6.6" fill="#222" stroke="#222" stroke-width="0.1" text-anchor="middle">12</text>
<text x="30.00" y="510.10" font-size="6.6" fill="#222" stroke="#222" stroke-width="0.1" text-anchor="end">0</text>
<text x="30.00" y="486.93" font-size="6.6" fill="#222" stroke="#222" stroke-width="0.1" text-anchor="end">1</text>
<text x="30.00" y="463.76" font-size="6.6" fill="#222" stroke="#222" stroke-width="0.1" text-anchor="end">2</text>
<text x="30.00" y="440.59" font-size="6.6" fill="#222" stroke="#222" stroke-width="0.1" text-anchor="end">3</text>
<text x="30.00" y="417.42" font-size="6.6" fill="#222" stroke="#222" stroke-width="0.1" text-anchor="end">4</text>
<text x="30.00" y="394.25" font-size="6.6" fill="#222" stroke="#222" stroke-width="0.1" text-anchor="end">5</text>
<text x="30.00" y="371.08" font-size="6.6" fill="#222" stroke="#222" stroke-width="0.1" text-anchor="end">6</text>
<text x="30.00" y="347.91" font-size="6.6" fill="#222" stroke="#222" stroke-width="0.1" text-anchor="end">7</text>
<text x="102.2" y="532.5" font-size="9" fill="#222" stroke="#222" stroke-width="0.2" textLength="54.6" lengthAdjust="spacingAndGlyphs">log<tspan font-size="6.5" dy="2.2">2</tspan><tspan dy="-2.2"> fold change</tspan></text>
<text transform="translate(18.2,426.2) rotate(-90)" x="0" y="0" font-size="8.6" fill="#222" stroke="#222" stroke-width="0.25" text-anchor="middle" textLength="47.5" lengthAdjust="spacingAndGlyphs">–log<tspan font-size="6.2" dy="2">10</tspan><tspan dy="-2"> </tspan><tspan font-style="italic">P</tspan> value</text>
<rect x="25" y="577.3" width="199.5" height="19" fill="#f1f5f7"/>
<rect x="25" y="617" width="199.5" height="19.2" fill="#f1f5f7"/>
<path d="M25,542.7H224.5M25,576.3H224.5M25,637H224.5" stroke="#1a3860" stroke-width="1.9"/>
<text x="125.00" y="557.20" font-size="7.7" fill="#222" stroke="#222" stroke-width="0.1" text-anchor="middle" textLength="115" lengthAdjust="spacingAndGlyphs">Differentially expressed genes in</text>
<text x="125.00" y="566.60" font-size="7.7" fill="#222" stroke="#222" stroke-width="0.1" text-anchor="middle" textLength="116.7" lengthAdjust="spacingAndGlyphs">CDR+ve vs CDR–ve EZB MYC–ve</text>
<text x="87.30" y="590.80" font-size="8" fill="#222" stroke="#222" stroke-width="0.1" text-anchor="middle" textLength="44" lengthAdjust="spacingAndGlyphs">Upregulated</text>
<text x="187.00" y="590.80" font-size="8" fill="#222" stroke="#222" stroke-width="0.1" text-anchor="middle">22</text>
<text x="87.30" y="610.90" font-size="8" fill="#222" stroke="#222" stroke-width="0.1" text-anchor="middle" textLength="54.5" lengthAdjust="spacingAndGlyphs">Downregulated</text>
<text x="187.00" y="610.90" font-size="8" fill="#222" stroke="#222" stroke-width="0.1" text-anchor="middle">96</text>
<text x="87.30" y="631.00" font-size="8" fill="#222" stroke="#222" stroke-width="0.1" text-anchor="middle" textLength="50.5" lengthAdjust="spacingAndGlyphs">Not significant</text>
<text x="187.00" y="631.00" font-size="8" fill="#222" stroke="#222" stroke-width="0.1" text-anchor="middle" textLength="21.8" lengthAdjust="spacingAndGlyphs">20556</text>
<text x="262.60" y="329.60" font-size="10.2" fill="#000" stroke="#000" stroke-width="0.5" font-weight="bold">D</text>
<text x="310.80" y="339.20" font-size="8.5" fill="#222" stroke="#222" stroke-width="0.1" textLength="147.7" lengthAdjust="spacingAndGlyphs">GSEA of the BCR pathway in EZB MYC-ve</text>
<path d="M293.5,354H490.5" stroke="#dc2a3a" stroke-width="1.8" stroke-dasharray="1.8 1.35" fill="none"/>
<path d="M291.9,517.0H491.5" stroke="#111" stroke-width="1.1"/>
<path d="M291.9,517.9H491.5" stroke="#c02030" stroke-width="0.6" stroke-dasharray="2 1.6"/>
<path d="M300.5,506.8L300.5,458.1L301.5,459.0L301.7,426.5L305.3,432.5L306.4,417.0L307.2,420.0L307.9,407.7L312.7,417.5L313.6,411.5L314.5,394.8L320.7,406.3L322.3,391.0L323.2,388.5L323.8,386.0L324.5,388.0L325.5,383.5L326.5,385.0L327.5,381.3L332.3,390.4L333.8,379.4L335.0,381.0L336.2,381.3L337.5,378.0L339.0,379.4L340.0,377.0L341.5,375.6L342.9,378.5L344.4,374.6L345.2,359.2L346.5,361.0L347.7,358.3L348.7,363.1L350.0,360.0L351.5,359.2L353.5,364.0L355.4,356.3L357.0,358.0L358.3,359.2L359.6,353.8L362.0,356.5L364.0,358.3L366.0,361.2L368.8,358.8L370.5,360.0L372.7,357.7L374.6,360.2L379.4,367.9L382.0,368.7L384.2,369.8L389.9,373.7L394.9,381.1L399.9,388.6L404.8,397.3L411.1,408.4L417.3,419.6L421.0,424.1L424.7,428.3L426.0,430.8L437.1,449.4L438.4,448.2L450.3,470.6L451.6,461.4L481.9,517.0" fill="none" stroke="#1aff00" stroke-width="1.8" stroke-linejoin="round"/>
<rect x="300.36" y="506.6" width="1.2" height="20.1" fill="#222"/>
<rect x="305.00" y="506.6" width="0.8" height="20.1" fill="#777"/>
<rect x="306.90" y="506.6" width="0.8" height="20.1" fill="#777"/>
<rect x="312.40" y="506.6" width="1.6" height="20.1" fill="#8a8a8a"/>
<rect x="321.10" y="506.6" width="1.2" height="20.1" fill="#222"/>
<rect x="323.40" y="506.6" width="0.8" height="20.1" fill="#888"/>
<rect x="325.20" y="506.6" width="0.8" height="20.1" fill="#888"/>
<rect x="327.10" y="506.6" width="0.8" height="20.1" fill="#888"/>
<rect x="332.70" y="506.6" width="1.2" height="20.1" fill="#222"/>
<rect x="335.90" y="506.6" width="0.8" height="20.1" fill="#666"/>
<rect x="337.70" y="506.6" width="0.8" height="20.1" fill="#666"/>
<rect x="339.30" y="506.6" width="0.8" height="20.1" fill="#666"/>
<rect x="341.10" y="506.6" width="0.8" height="20.1" fill="#555"/>
<rect x="343.80" y="506.6" width="1.6" height="20.1" fill="#222"/>
<rect x="348.20" y="506.6" width="1.0" height="20.1" fill="#222"/>
<rect x="352.40" y="506.6" width="2.0" height="20.1" fill="#444"/>
<rect x="356.30" y="506.6" width="2.0" height="20.1" fill="#8a8a8a"/>
<rect x="359.20" y="506.6" width="1.0" height="20.1" fill="#222"/>
<rect x="362.50" y="506.6" width="1.2" height="20.1" fill="#999"/>
<rect x="365.50" y="506.6" width="2.4" height="20.1" fill="#777"/>
<rect x="368.85" y="506.6" width="0.9" height="20.1" fill="#888"/>
<rect x="371.25" y="506.6" width="0.9" height="20.1" fill="#888"/>
<rect x="375.15" y="506.6" width="0.9" height="20.1" fill="#333"/>
<rect x="380.30" y="506.6" width="2.0" height="20.1" fill="#777"/>
<rect x="384.70" y="506.6" width="1.0" height="20.1" fill="#222"/>
<rect x="387.05" y="506.6" width="1.9" height="20.1" fill="#666"/>
<rect x="393.60" y="506.6" width="2.0" height="20.1" fill="#888"/>
<rect x="396.60" y="506.6" width="2.8" height="20.1" fill="#8a8a8a"/>
<rect x="403.25" y="506.6" width="1.0" height="20.1" fill="#222"/>
<rect x="411.00" y="506.6" width="0.8" height="20.1" fill="#888"/>
<rect x="415.80" y="506.6" width="0.9" height="20.1" fill="#333"/>
<rect x="418.85" y="506.6" width="0.9" height="20.1" fill="#333"/>
<rect x="421.55" y="506.6" width="1.5" height="20.1" fill="#999"/>
<rect x="424.75" y="506.6" width="0.9" height="20.1" fill="#333"/>
<rect x="437.35" y="506.6" width="0.9" height="20.1" fill="#444"/>
<rect x="450.75" y="506.6" width="0.9" height="20.1" fill="#444"/>
<rect x="291.9" y="345.3" width="199.60" height="189.40" fill="none" stroke="#111" stroke-width="1.5"/>
<path d="M288.10,517.00H291.9M288.10,484.25H291.9M288.10,451.50H291.9M288.10,418.75H291.9M288.10,386.00H291.9M288.10,353.25H291.9M300.30,534.7V537.70M344.10,534.7V537.70M387.90,534.7V537.70M431.70,534.7V537.70M475.50,534.7V537.70" stroke="#111" stroke-width="1.1" fill="none"/>
<text x="286.40" y="519.70" font-size="7.8" fill="#222" stroke="#222" stroke-width="0.1" text-anchor="end" textLength="10.2" lengthAdjust="spacingAndGlyphs">0.0</text>
<text x="286.40" y="486.95" font-size="7.8" fill="#222" stroke="#222" stroke-width="0.1" text-anchor="end" textLength="10.2" lengthAdjust="spacingAndGlyphs">0.1</text>
<text x="286.40" y="454.20" font-size="7.8" fill="#222" stroke="#222" stroke-width="0.1" text-anchor="end" textLength="10.2" lengthAdjust="spacingAndGlyphs">0.2</text>
<text x="286.40" y="421.45" font-size="7.8" fill="#222" stroke="#222" stroke-width="0.1" text-anchor="end" textLength="10.2" lengthAdjust="spacingAndGlyphs">0.3</text>
<text x="286.40" y="388.70" font-size="7.8" fill="#222" stroke="#222" stroke-width="0.1" text-anchor="end" textLength="10.2" lengthAdjust="spacingAndGlyphs">0.4</text>
<text x="286.40" y="355.95" font-size="7.8" fill="#222" stroke="#222" stroke-width="0.1" text-anchor="end" textLength="10.2" lengthAdjust="spacingAndGlyphs">0.5</text>
<text x="300.30" y="547.20" font-size="7.8" fill="#222" stroke="#222" stroke-width="0.1" text-anchor="middle">0</text>
<text x="344.10" y="547.20" font-size="7.8" fill="#222" stroke="#222" stroke-width="0.1" text-anchor="middle" textLength="17.4" lengthAdjust="spacingAndGlyphs">5000</text>
<text x="387.90" y="547.20" font-size="7.8" fill="#222" stroke="#222" stroke-width="0.1" text-anchor="middle" textLength="21.8" lengthAdjust="spacingAndGlyphs">10000</text>
<text x="431.70" y="547.20" font-size="7.8" fill="#222" stroke="#222" stroke-width="0.1" text-anchor="middle" textLength="21.8" lengthAdjust="spacingAndGlyphs">15000</text>
<text x="475.50" y="547.20" font-size="7.8" fill="#222" stroke="#222" stroke-width="0.1" text-anchor="middle" textLength="21.8" lengthAdjust="spacingAndGlyphs">20000</text>
<text transform="translate(270.3,440.3) rotate(-90)" x="0" y="0" font-size="8.8" fill="#222" stroke="#222" stroke-width="0.25" text-anchor="middle" textLength="59" lengthAdjust="spacingAndGlyphs">Enrichment score</text>
<text x="388.50" y="561.20" font-size="9.2" fill="#222" stroke="#222" stroke-width="0.2" text-anchor="middle" textLength="17" lengthAdjust="spacingAndGlyphs">Rank</text>
<path d="M299.4,550.1C299.8,553.4 302.3,554.4 305.4,554.4H326.3C328.8,554.4 330.3,556 330.6,557.8C330.9,556 332.4,554.4 335,554.4H355.2C358.4,554.4 361.2,553.4 361.5,550.4" fill="none" stroke="#1a3cb0" stroke-width="1.3"/>
<text x="330.60" y="568.60" font-size="7" fill="#222" stroke="#222" stroke-width="0.1" text-anchor="middle">*</text>
<rect x="274.2" y="571.4" width="235.1" height="65.4" fill="none" stroke="#333" stroke-width="1"/>
<text x="280.8" y="583.10" font-size="7.4" fill="#111" textLength="222.2" lengthAdjust="spacingAndGlyphs">*Leading edge genes (from left to right): <tspan font-style="italic">CHP2, FCGR2B, CR2,</tspan></text>
<text x="280.8" y="592.64" font-size="7.4" fill="#111" textLength="212.2" lengthAdjust="spacingAndGlyphs"><tspan font-style="italic">PLCG2, CD79A, CD22, RAC2, RELA, BTK, PIK3AP1, PTPN6,</tspan></text>
<text x="280.8" y="602.18" font-size="7.4" fill="#111" textLength="199.7" lengthAdjust="spacingAndGlyphs"><tspan font-style="italic">CD72, RASGRP3, BLNK, NFKBIE, VAV1, PIK3R1, IFITM1,</tspan></text>
<text x="280.8" y="611.72" font-size="7.4" fill="#111" textLength="206.2" lengthAdjust="spacingAndGlyphs"><tspan font-style="italic">NFAT5, MAP2K2, HRAS, INPP5D, VAV3, IKBKG, MAP2K1,</tspan></text>
<text x="280.8" y="621.26" font-size="7.4" fill="#111" textLength="217.2" lengthAdjust="spacingAndGlyphs"><tspan font-style="italic">GSK3B, SYK, NFATC3, CD81, MAPK1, LYN, LILRB3, PPP3CA,</tspan></text>
<text x="280.8" y="630.80" font-size="7.4" fill="#111" textLength="73" lengthAdjust="spacingAndGlyphs"><tspan font-style="italic">RAF1, SOS2 &amp; RAC1</tspan></text>
<rect x="0.75" y="0.75" width="518.5" height="642.5" fill="none" stroke="#000" stroke-width="1.5"/>
</svg>
</body></html>
